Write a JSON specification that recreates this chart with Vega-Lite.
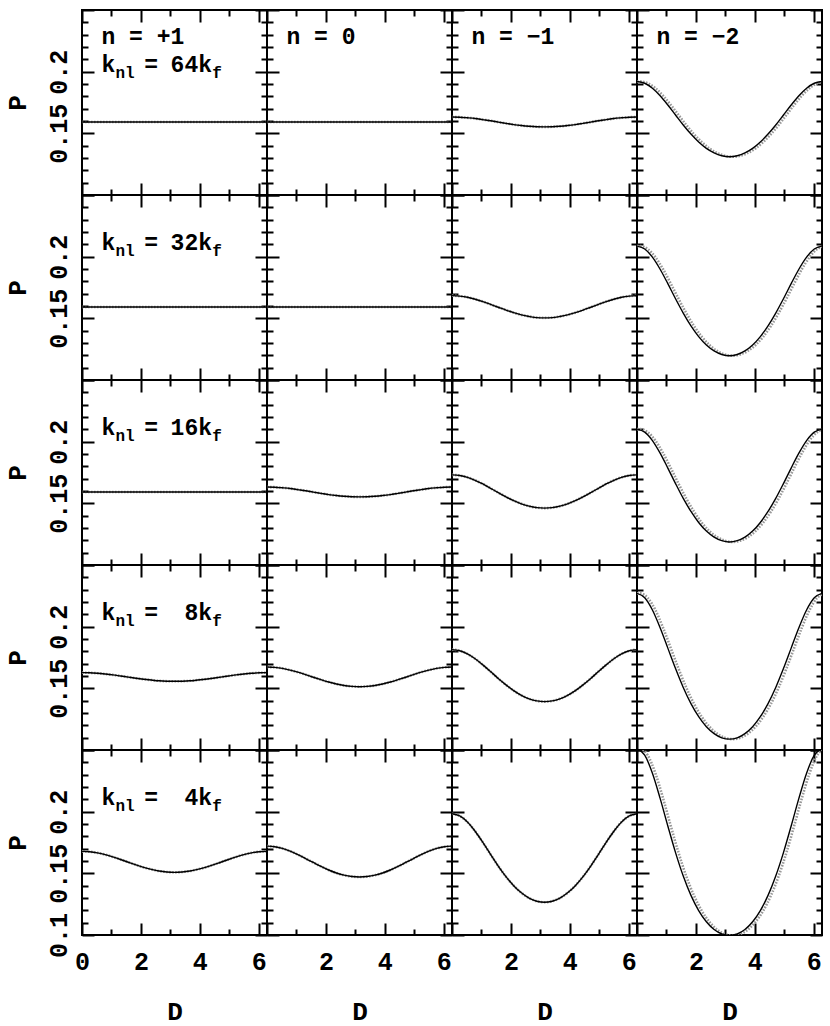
{
"$schema":"https://vega.github.io/schema/vega-lite/v6.json",
"padding":{"left":3,"top":8,"right":6,"bottom":4},
"columns":4,"spacing":0,"bounds":"flush",
"config":{
 "view":{"stroke":"black","strokeWidth":2},
 "axis":{"ticks":false,"domain":false,"grid":true,"gridColor":"black","gridWidth":2,"gridOpacity":1,"labelFont":"Liberation Mono","labelFontWeight":"bold","labelFontSize":25,"labelColor":"black","labelFlush":false,"labelOverlap":false,"labelBound":false,"titleFont":"Liberation Mono","titleFontWeight":"bold","titleFontSize":26,"titleColor":"black"},
 "axisX":{"labelPadding":14,"titlePadding":24},
 "axisY":{"labelPadding":16,"labelAngle":-90,"labelAlign":"center","labelBaseline":"alphabetic","titlePadding":16},
 "text":{"font":"Liberation Mono","fontWeight":"bold","fontSize":23,"align":"left","baseline":"alphabetic","color":"black"}
},
"datasets":{
"ann":[
{"key":"11h","t":"n = +1"},{"key":"12h","t":"n = 0"},{"key":"13h","t":"n = −1"},{"key":"14h","t":"n = −2"},
{"key":"11k","t":"k"},{"key":"11n","t":"nl"},{"key":"11e","t":"="},{"key":"11v","t":"64k"},{"key":"11f","t":"f"},
{"key":"21k","t":"k"},{"key":"21n","t":"nl"},{"key":"21e","t":"="},{"key":"21v","t":"32k"},{"key":"21f","t":"f"},
{"key":"31k","t":"k"},{"key":"31n","t":"nl"},{"key":"31e","t":"="},{"key":"31v","t":"16k"},{"key":"31f","t":"f"},
{"key":"41k","t":"k"},{"key":"41n","t":"nl"},{"key":"41e","t":"="},{"key":"41v","t":"8k"},{"key":"41f","t":"f"},
{"key":"51k","t":"k"},{"key":"51n","t":"nl"},{"key":"51e","t":"="},{"key":"51v","t":"4k"},{"key":"51f","t":"f"}
],
"model":[
{"p":"11","D":0,"P":0.1592},{"p":"11","D":6.2832,"P":0.1592},
{"p":"12","D":0,"P":0.1592},{"p":"12","D":6.2832,"P":0.1592},
{"p":"21","D":0,"P":0.1592},{"p":"21","D":6.2832,"P":0.1592},
{"p":"22","D":0,"P":0.1592},{"p":"22","D":6.2832,"P":0.1592},
{"p":"31","D":0,"P":0.1592},{"p":"31","D":6.2832,"P":0.1592},
{"p":"13","D":0,"P":0.1632},{"p":"13","D":0.2618,"P":0.1631},{"p":"13","D":0.5236,"P":0.1626},{"p":"13","D":0.7854,"P":0.162},{"p":"13","D":1.0472,"P":0.1611},{"p":"13","D":1.309,"P":0.1602},{"p":"13","D":1.5708,"P":0.1591},{"p":"13","D":1.8326,"P":0.1581},{"p":"13","D":2.0944,"P":0.1571},{"p":"13","D":2.3562,"P":0.1563},{"p":"13","D":2.618,"P":0.1557},{"p":"13","D":2.8798,"P":0.1553},{"p":"13","D":3.1416,"P":0.1552},{"p":"13","D":3.4034,"P":0.1553},{"p":"13","D":3.6652,"P":0.1557},{"p":"13","D":3.927,"P":0.1563},{"p":"13","D":4.1888,"P":0.1571},{"p":"13","D":4.4506,"P":0.1581},{"p":"13","D":4.7124,"P":0.1591},{"p":"13","D":4.9742,"P":0.1602},{"p":"13","D":5.236,"P":0.1611},{"p":"13","D":5.4978,"P":0.162},{"p":"13","D":5.7596,"P":0.1626},{"p":"13","D":6.0214,"P":0.1631},{"p":"13","D":6.2832,"P":0.1632},
{"p":"32","D":0,"P":0.1632},{"p":"32","D":0.2618,"P":0.1631},{"p":"32","D":0.5236,"P":0.1626},{"p":"32","D":0.7854,"P":0.162},{"p":"32","D":1.0472,"P":0.1611},{"p":"32","D":1.309,"P":0.1602},{"p":"32","D":1.5708,"P":0.1591},{"p":"32","D":1.8326,"P":0.1581},{"p":"32","D":2.0944,"P":0.1571},{"p":"32","D":2.3562,"P":0.1563},{"p":"32","D":2.618,"P":0.1557},{"p":"32","D":2.8798,"P":0.1553},{"p":"32","D":3.1416,"P":0.1552},{"p":"32","D":3.4034,"P":0.1553},{"p":"32","D":3.6652,"P":0.1557},{"p":"32","D":3.927,"P":0.1563},{"p":"32","D":4.1888,"P":0.1571},{"p":"32","D":4.4506,"P":0.1581},{"p":"32","D":4.7124,"P":0.1591},{"p":"32","D":4.9742,"P":0.1602},{"p":"32","D":5.236,"P":0.1611},{"p":"32","D":5.4978,"P":0.162},{"p":"32","D":5.7596,"P":0.1626},{"p":"32","D":6.0214,"P":0.1631},{"p":"32","D":6.2832,"P":0.1632},
{"p":"14","D":0,"P":0.192},{"p":"14","D":0.2618,"P":0.1906},{"p":"14","D":0.5236,"P":0.1866},{"p":"14","D":0.7854,"P":0.1805},{"p":"14","D":1.0472,"P":0.173},{"p":"14","D":1.309,"P":0.1649},{"p":"14","D":1.5708,"P":0.1568},{"p":"14","D":1.8326,"P":0.1494},{"p":"14","D":2.0944,"P":0.143},{"p":"14","D":2.3562,"P":0.1378},{"p":"14","D":2.618,"P":0.1341},{"p":"14","D":2.8798,"P":0.1318},{"p":"14","D":3.1416,"P":0.131},{"p":"14","D":3.4034,"P":0.1318},{"p":"14","D":3.6652,"P":0.1341},{"p":"14","D":3.927,"P":0.1378},{"p":"14","D":4.1888,"P":0.143},{"p":"14","D":4.4506,"P":0.1494},{"p":"14","D":4.7124,"P":0.1568},{"p":"14","D":4.9742,"P":0.1649},{"p":"14","D":5.236,"P":0.173},{"p":"14","D":5.4978,"P":0.1805},{"p":"14","D":5.7596,"P":0.1866},{"p":"14","D":6.0214,"P":0.1906},{"p":"14","D":6.2832,"P":0.192},
{"p":"23","D":0,"P":0.1684},{"p":"23","D":0.2618,"P":0.168},{"p":"23","D":0.5236,"P":0.1671},{"p":"23","D":0.7854,"P":0.1655},{"p":"23","D":1.0472,"P":0.1636},{"p":"23","D":1.309,"P":0.1613},{"p":"23","D":1.5708,"P":0.159},{"p":"23","D":1.8326,"P":0.1567},{"p":"23","D":2.0944,"P":0.1546},{"p":"23","D":2.3562,"P":0.1528},{"p":"23","D":2.618,"P":0.1515},{"p":"23","D":2.8798,"P":0.1506},{"p":"23","D":3.1416,"P":0.1504},{"p":"23","D":3.4034,"P":0.1506},{"p":"23","D":3.6652,"P":0.1515},{"p":"23","D":3.927,"P":0.1528},{"p":"23","D":4.1888,"P":0.1546},{"p":"23","D":4.4506,"P":0.1567},{"p":"23","D":4.7124,"P":0.159},{"p":"23","D":4.9742,"P":0.1613},{"p":"23","D":5.236,"P":0.1636},{"p":"23","D":5.4978,"P":0.1655},{"p":"23","D":5.7596,"P":0.1671},{"p":"23","D":6.0214,"P":0.168},{"p":"23","D":6.2832,"P":0.1684},
{"p":"24","D":0,"P":0.2086},{"p":"24","D":0.2618,"P":0.2062},{"p":"24","D":0.5236,"P":0.1996},{"p":"24","D":0.7854,"P":0.1898},{"p":"24","D":1.0472,"P":0.1781},{"p":"24","D":1.309,"P":0.1659},{"p":"24","D":1.5708,"P":0.1543},{"p":"24","D":1.8326,"P":0.1439},{"p":"24","D":2.0944,"P":0.1352},{"p":"24","D":2.3562,"P":0.1284},{"p":"24","D":2.618,"P":0.1236},{"p":"24","D":2.8798,"P":0.1207},{"p":"24","D":3.1416,"P":0.1197},{"p":"24","D":3.4034,"P":0.1207},{"p":"24","D":3.6652,"P":0.1236},{"p":"24","D":3.927,"P":0.1284},{"p":"24","D":4.1888,"P":0.1352},{"p":"24","D":4.4506,"P":0.1439},{"p":"24","D":4.7124,"P":0.1543},{"p":"24","D":4.9742,"P":0.1659},{"p":"24","D":5.236,"P":0.1781},{"p":"24","D":5.4978,"P":0.1898},{"p":"24","D":5.7596,"P":0.1996},{"p":"24","D":6.0214,"P":0.2062},{"p":"24","D":6.2832,"P":0.2086},
{"p":"33","D":0,"P":0.1731},{"p":"33","D":0.2618,"P":0.1726},{"p":"33","D":0.5236,"P":0.1711},{"p":"33","D":0.7854,"P":0.1687},{"p":"33","D":1.0472,"P":0.1657},{"p":"33","D":1.309,"P":0.1622},{"p":"33","D":1.5708,"P":0.1587},{"p":"33","D":1.8326,"P":0.1553},{"p":"33","D":2.0944,"P":0.1522},{"p":"33","D":2.3562,"P":0.1496},{"p":"33","D":2.618,"P":0.1477},{"p":"33","D":2.8798,"P":0.1465},{"p":"33","D":3.1416,"P":0.1461},{"p":"33","D":3.4034,"P":0.1465},{"p":"33","D":3.6652,"P":0.1477},{"p":"33","D":3.927,"P":0.1496},{"p":"33","D":4.1888,"P":0.1522},{"p":"33","D":4.4506,"P":0.1553},{"p":"33","D":4.7124,"P":0.1587},{"p":"33","D":4.9742,"P":0.1622},{"p":"33","D":5.236,"P":0.1657},{"p":"33","D":5.4978,"P":0.1687},{"p":"33","D":5.7596,"P":0.1711},{"p":"33","D":6.0214,"P":0.1726},{"p":"33","D":6.2832,"P":0.1731},
{"p":"34","D":0,"P":0.2102},{"p":"34","D":0.2618,"P":0.2077},{"p":"34","D":0.5236,"P":0.2009},{"p":"34","D":0.7854,"P":0.1907},{"p":"34","D":1.0472,"P":0.1786},{"p":"34","D":1.309,"P":0.166},{"p":"34","D":1.5708,"P":0.154},{"p":"34","D":1.8326,"P":0.1434},{"p":"34","D":2.0944,"P":0.1345},{"p":"34","D":2.3562,"P":0.1275},{"p":"34","D":2.618,"P":0.1226},{"p":"34","D":2.8798,"P":0.1197},{"p":"34","D":3.1416,"P":0.1187},{"p":"34","D":3.4034,"P":0.1197},{"p":"34","D":3.6652,"P":0.1226},{"p":"34","D":3.927,"P":0.1275},{"p":"34","D":4.1888,"P":0.1345},{"p":"34","D":4.4506,"P":0.1434},{"p":"34","D":4.7124,"P":0.154},{"p":"34","D":4.9742,"P":0.166},{"p":"34","D":5.236,"P":0.1786},{"p":"34","D":5.4978,"P":0.1907},{"p":"34","D":5.7596,"P":0.2009},{"p":"34","D":6.0214,"P":0.2077},{"p":"34","D":6.2832,"P":0.2102},
{"p":"41","D":0,"P":0.1627},{"p":"41","D":0.2618,"P":0.1626},{"p":"41","D":0.5236,"P":0.1622},{"p":"41","D":0.7854,"P":0.1616},{"p":"41","D":1.0472,"P":0.1609},{"p":"41","D":1.309,"P":0.16},{"p":"41","D":1.5708,"P":0.1591},{"p":"41","D":1.8326,"P":0.1582},{"p":"41","D":2.0944,"P":0.1574},{"p":"41","D":2.3562,"P":0.1567},{"p":"41","D":2.618,"P":0.1561},{"p":"41","D":2.8798,"P":0.1558},{"p":"41","D":3.1416,"P":0.1557},{"p":"41","D":3.4034,"P":0.1558},{"p":"41","D":3.6652,"P":0.1561},{"p":"41","D":3.927,"P":0.1567},{"p":"41","D":4.1888,"P":0.1574},{"p":"41","D":4.4506,"P":0.1582},{"p":"41","D":4.7124,"P":0.1591},{"p":"41","D":4.9742,"P":0.16},{"p":"41","D":5.236,"P":0.1609},{"p":"41","D":5.4978,"P":0.1616},{"p":"41","D":5.7596,"P":0.1622},{"p":"41","D":6.0214,"P":0.1626},{"p":"41","D":6.2832,"P":0.1627},
{"p":"42","D":0,"P":0.1673},{"p":"42","D":0.2618,"P":0.167},{"p":"42","D":0.5236,"P":0.1662},{"p":"42","D":0.7854,"P":0.1648},{"p":"42","D":1.0472,"P":0.1631},{"p":"42","D":1.309,"P":0.1611},{"p":"42","D":1.5708,"P":0.159},{"p":"42","D":1.8326,"P":0.157},{"p":"42","D":2.0944,"P":0.1551},{"p":"42","D":2.3562,"P":0.1535},{"p":"42","D":2.618,"P":0.1523},{"p":"42","D":2.8798,"P":0.1516},{"p":"42","D":3.1416,"P":0.1513},{"p":"42","D":3.4034,"P":0.1516},{"p":"42","D":3.6652,"P":0.1523},{"p":"42","D":3.927,"P":0.1535},{"p":"42","D":4.1888,"P":0.1551},{"p":"42","D":4.4506,"P":0.157},{"p":"42","D":4.7124,"P":0.159},{"p":"42","D":4.9742,"P":0.1611},{"p":"42","D":5.236,"P":0.1631},{"p":"42","D":5.4978,"P":0.1648},{"p":"42","D":5.7596,"P":0.1662},{"p":"42","D":6.0214,"P":0.167},{"p":"42","D":6.2832,"P":0.1673},
{"p":"43","D":0,"P":0.1814},{"p":"43","D":0.2618,"P":0.1805},{"p":"43","D":0.5236,"P":0.1779},{"p":"43","D":0.7854,"P":0.174},{"p":"43","D":1.0472,"P":0.169},{"p":"43","D":1.309,"P":0.1636},{"p":"43","D":1.5708,"P":0.158},{"p":"43","D":1.8326,"P":0.1528},{"p":"43","D":2.0944,"P":0.1481},{"p":"43","D":2.3562,"P":0.1443},{"p":"43","D":2.618,"P":0.1415},{"p":"43","D":2.8798,"P":0.1398},{"p":"43","D":3.1416,"P":0.1392},{"p":"43","D":3.4034,"P":0.1398},{"p":"43","D":3.6652,"P":0.1415},{"p":"43","D":3.927,"P":0.1443},{"p":"43","D":4.1888,"P":0.1481},{"p":"43","D":4.4506,"P":0.1528},{"p":"43","D":4.7124,"P":0.158},{"p":"43","D":4.9742,"P":0.1636},{"p":"43","D":5.236,"P":0.169},{"p":"43","D":5.4978,"P":0.174},{"p":"43","D":5.7596,"P":0.1779},{"p":"43","D":6.0214,"P":0.1805},{"p":"43","D":6.2832,"P":0.1814},
{"p":"44","D":0,"P":0.227},{"p":"44","D":0.2618,"P":0.2234},{"p":"44","D":0.5236,"P":0.2135},{"p":"44","D":0.7854,"P":0.1991},{"p":"44","D":1.0472,"P":0.1826},{"p":"44","D":1.309,"P":0.166},{"p":"44","D":1.5708,"P":0.1507},{"p":"44","D":1.8326,"P":0.1376},{"p":"44","D":2.0944,"P":0.127},{"p":"44","D":2.3562,"P":0.1189},{"p":"44","D":2.618,"P":0.1133},{"p":"44","D":2.8798,"P":0.1099},{"p":"44","D":3.1416,"P":0.1088},{"p":"44","D":3.4034,"P":0.1099},{"p":"44","D":3.6652,"P":0.1133},{"p":"44","D":3.927,"P":0.1189},{"p":"44","D":4.1888,"P":0.127},{"p":"44","D":4.4506,"P":0.1376},{"p":"44","D":4.7124,"P":0.1507},{"p":"44","D":4.9742,"P":0.166},{"p":"44","D":5.236,"P":0.1826},{"p":"44","D":5.4978,"P":0.1991},{"p":"44","D":5.7596,"P":0.2135},{"p":"44","D":6.0214,"P":0.2234},{"p":"44","D":6.2832,"P":0.227},
{"p":"51","D":0,"P":0.1678},{"p":"51","D":0.2618,"P":0.1675},{"p":"51","D":0.5236,"P":0.1666},{"p":"51","D":0.7854,"P":0.1652},{"p":"51","D":1.0472,"P":0.1633},{"p":"51","D":1.309,"P":0.1612},{"p":"51","D":1.5708,"P":0.159},{"p":"51","D":1.8326,"P":0.1568},{"p":"51","D":2.0944,"P":0.1548},{"p":"51","D":2.3562,"P":0.1532},{"p":"51","D":2.618,"P":0.1519},{"p":"51","D":2.8798,"P":0.1511},{"p":"51","D":3.1416,"P":0.1508},{"p":"51","D":3.4034,"P":0.1511},{"p":"51","D":3.6652,"P":0.1519},{"p":"51","D":3.927,"P":0.1532},{"p":"51","D":4.1888,"P":0.1548},{"p":"51","D":4.4506,"P":0.1568},{"p":"51","D":4.7124,"P":0.159},{"p":"51","D":4.9742,"P":0.1612},{"p":"51","D":5.236,"P":0.1633},{"p":"51","D":5.4978,"P":0.1652},{"p":"51","D":5.7596,"P":0.1666},{"p":"51","D":6.0214,"P":0.1675},{"p":"51","D":6.2832,"P":0.1678},
{"p":"52","D":0,"P":0.1721},{"p":"52","D":0.2618,"P":0.1716},{"p":"52","D":0.5236,"P":0.1702},{"p":"52","D":0.7854,"P":0.168},{"p":"52","D":1.0472,"P":0.1652},{"p":"52","D":1.309,"P":0.162},{"p":"52","D":1.5708,"P":0.1588},{"p":"52","D":1.8326,"P":0.1556},{"p":"52","D":2.0944,"P":0.1527},{"p":"52","D":2.3562,"P":0.1503},{"p":"52","D":2.618,"P":0.1485},{"p":"52","D":2.8798,"P":0.1474},{"p":"52","D":3.1416,"P":0.147},{"p":"52","D":3.4034,"P":0.1474},{"p":"52","D":3.6652,"P":0.1485},{"p":"52","D":3.927,"P":0.1503},{"p":"52","D":4.1888,"P":0.1527},{"p":"52","D":4.4506,"P":0.1556},{"p":"52","D":4.7124,"P":0.1588},{"p":"52","D":4.9742,"P":0.162},{"p":"52","D":5.236,"P":0.1652},{"p":"52","D":5.4978,"P":0.168},{"p":"52","D":5.7596,"P":0.1702},{"p":"52","D":6.0214,"P":0.1716},{"p":"52","D":6.2832,"P":0.1721},
{"p":"53","D":0,"P":0.1983},{"p":"53","D":0.2618,"P":0.1965},{"p":"53","D":0.5236,"P":0.1916},{"p":"53","D":0.7854,"P":0.1841},{"p":"53","D":1.0472,"P":0.1751},{"p":"53","D":1.309,"P":0.1654},{"p":"53","D":1.5708,"P":0.1559},{"p":"53","D":1.8326,"P":0.1473},{"p":"53","D":2.0944,"P":0.14},{"p":"53","D":2.3562,"P":0.1342},{"p":"53","D":2.618,"P":0.1299},{"p":"53","D":2.8798,"P":0.1274},{"p":"53","D":3.1416,"P":0.1265},{"p":"53","D":3.4034,"P":0.1274},{"p":"53","D":3.6652,"P":0.1299},{"p":"53","D":3.927,"P":0.1342},{"p":"53","D":4.1888,"P":0.14},{"p":"53","D":4.4506,"P":0.1473},{"p":"53","D":4.7124,"P":0.1559},{"p":"53","D":4.9742,"P":0.1654},{"p":"53","D":5.236,"P":0.1751},{"p":"53","D":5.4978,"P":0.1841},{"p":"53","D":5.7596,"P":0.1916},{"p":"53","D":6.0214,"P":0.1965},{"p":"53","D":6.2832,"P":0.1983},
{"p":"54","D":0,"P":0.2511},{"p":"54","D":0.2618,"P":0.2458},{"p":"54","D":0.5236,"P":0.2312},{"p":"54","D":0.7854,"P":0.2108},{"p":"54","D":1.0472,"P":0.1884},{"p":"54","D":1.309,"P":0.1668},{"p":"54","D":1.5708,"P":0.1478},{"p":"54","D":1.8326,"P":0.1321},{"p":"54","D":2.0944,"P":0.1198},{"p":"54","D":2.3562,"P":0.1107},{"p":"54","D":2.618,"P":0.1044},{"p":"54","D":2.8798,"P":0.1008},{"p":"54","D":3.1416,"P":0.0996},{"p":"54","D":3.4034,"P":0.1008},{"p":"54","D":3.6652,"P":0.1044},{"p":"54","D":3.927,"P":0.1107},{"p":"54","D":4.1888,"P":0.1198},{"p":"54","D":4.4506,"P":0.1321},{"p":"54","D":4.7124,"P":0.1478},{"p":"54","D":4.9742,"P":0.1668},{"p":"54","D":5.236,"P":0.1884},{"p":"54","D":5.4978,"P":0.2108},{"p":"54","D":5.7596,"P":0.2312},{"p":"54","D":6.0214,"P":0.2458},{"p":"54","D":6.2832,"P":0.2511}
],
"meas":[
{"p":"14","D":0,"P":0.192},{"p":"14","D":0.1,"P":0.192},{"p":"14","D":0.3618,"P":0.1906},{"p":"14","D":0.6236,"P":0.1866},{"p":"14","D":0.8854,"P":0.1805},{"p":"14","D":1.1472,"P":0.173},{"p":"14","D":1.409,"P":0.1649},{"p":"14","D":1.6708,"P":0.1568},{"p":"14","D":1.9326,"P":0.1494},{"p":"14","D":2.1944,"P":0.143},{"p":"14","D":2.4562,"P":0.1378},{"p":"14","D":2.718,"P":0.1341},{"p":"14","D":2.9798,"P":0.1318},{"p":"14","D":3.2416,"P":0.131},{"p":"14","D":3.5034,"P":0.1318},{"p":"14","D":3.7652,"P":0.1341},{"p":"14","D":4.027,"P":0.1378},{"p":"14","D":4.2888,"P":0.143},{"p":"14","D":4.5506,"P":0.1494},{"p":"14","D":4.8124,"P":0.1568},{"p":"14","D":5.0742,"P":0.1649},{"p":"14","D":5.336,"P":0.173},{"p":"14","D":5.5978,"P":0.1805},{"p":"14","D":5.8596,"P":0.1866},{"p":"14","D":6.1214,"P":0.1906},{"p":"14","D":6.3832,"P":0.192},
{"p":"24","D":0,"P":0.2086},{"p":"24","D":0.1,"P":0.2086},{"p":"24","D":0.3618,"P":0.2062},{"p":"24","D":0.6236,"P":0.1996},{"p":"24","D":0.8854,"P":0.1898},{"p":"24","D":1.1472,"P":0.1781},{"p":"24","D":1.409,"P":0.1659},{"p":"24","D":1.6708,"P":0.1543},{"p":"24","D":1.9326,"P":0.1439},{"p":"24","D":2.1944,"P":0.1352},{"p":"24","D":2.4562,"P":0.1284},{"p":"24","D":2.718,"P":0.1236},{"p":"24","D":2.9798,"P":0.1207},{"p":"24","D":3.2416,"P":0.1197},{"p":"24","D":3.5034,"P":0.1207},{"p":"24","D":3.7652,"P":0.1236},{"p":"24","D":4.027,"P":0.1284},{"p":"24","D":4.2888,"P":0.1352},{"p":"24","D":4.5506,"P":0.1439},{"p":"24","D":4.8124,"P":0.1543},{"p":"24","D":5.0742,"P":0.1659},{"p":"24","D":5.336,"P":0.1781},{"p":"24","D":5.5978,"P":0.1898},{"p":"24","D":5.8596,"P":0.1996},{"p":"24","D":6.1214,"P":0.2062},{"p":"24","D":6.3832,"P":0.2086},
{"p":"34","D":0,"P":0.2102},{"p":"34","D":0.1,"P":0.2102},{"p":"34","D":0.3618,"P":0.2077},{"p":"34","D":0.6236,"P":0.2009},{"p":"34","D":0.8854,"P":0.1907},{"p":"34","D":1.1472,"P":0.1786},{"p":"34","D":1.409,"P":0.166},{"p":"34","D":1.6708,"P":0.154},{"p":"34","D":1.9326,"P":0.1434},{"p":"34","D":2.1944,"P":0.1345},{"p":"34","D":2.4562,"P":0.1275},{"p":"34","D":2.718,"P":0.1226},{"p":"34","D":2.9798,"P":0.1197},{"p":"34","D":3.2416,"P":0.1187},{"p":"34","D":3.5034,"P":0.1197},{"p":"34","D":3.7652,"P":0.1226},{"p":"34","D":4.027,"P":0.1275},{"p":"34","D":4.2888,"P":0.1345},{"p":"34","D":4.5506,"P":0.1434},{"p":"34","D":4.8124,"P":0.154},{"p":"34","D":5.0742,"P":0.166},{"p":"34","D":5.336,"P":0.1786},{"p":"34","D":5.5978,"P":0.1907},{"p":"34","D":5.8596,"P":0.2009},{"p":"34","D":6.1214,"P":0.2077},{"p":"34","D":6.3832,"P":0.2102},
{"p":"44","D":0,"P":0.227},{"p":"44","D":0.1,"P":0.227},{"p":"44","D":0.3618,"P":0.2234},{"p":"44","D":0.6236,"P":0.2135},{"p":"44","D":0.8854,"P":0.1991},{"p":"44","D":1.1472,"P":0.1826},{"p":"44","D":1.409,"P":0.166},{"p":"44","D":1.6708,"P":0.1507},{"p":"44","D":1.9326,"P":0.1376},{"p":"44","D":2.1944,"P":0.127},{"p":"44","D":2.4562,"P":0.1189},{"p":"44","D":2.718,"P":0.1133},{"p":"44","D":2.9798,"P":0.1099},{"p":"44","D":3.2416,"P":0.1088},{"p":"44","D":3.5034,"P":0.1099},{"p":"44","D":3.7652,"P":0.1133},{"p":"44","D":4.027,"P":0.1189},{"p":"44","D":4.2888,"P":0.127},{"p":"44","D":4.5506,"P":0.1376},{"p":"44","D":4.8124,"P":0.1507},{"p":"44","D":5.0742,"P":0.166},{"p":"44","D":5.336,"P":0.1826},{"p":"44","D":5.5978,"P":0.1991},{"p":"44","D":5.8596,"P":0.2135},{"p":"44","D":6.1214,"P":0.2234},{"p":"44","D":6.3832,"P":0.227},
{"p":"54","D":0,"P":0.2511},{"p":"54","D":0.1,"P":0.2511},{"p":"54","D":0.3618,"P":0.2458},{"p":"54","D":0.6236,"P":0.2312},{"p":"54","D":0.8854,"P":0.2108},{"p":"54","D":1.1472,"P":0.1884},{"p":"54","D":1.409,"P":0.1668},{"p":"54","D":1.6708,"P":0.1478},{"p":"54","D":1.9326,"P":0.1321},{"p":"54","D":2.1944,"P":0.1198},{"p":"54","D":2.4562,"P":0.1107},{"p":"54","D":2.718,"P":0.1044},{"p":"54","D":2.9798,"P":0.1008},{"p":"54","D":3.2416,"P":0.0996},{"p":"54","D":3.5034,"P":0.1008},{"p":"54","D":3.7652,"P":0.1044},{"p":"54","D":4.027,"P":0.1107},{"p":"54","D":4.2888,"P":0.1198},{"p":"54","D":4.5506,"P":0.1321},{"p":"54","D":4.8124,"P":0.1478},{"p":"54","D":5.0742,"P":0.1668},{"p":"54","D":5.336,"P":0.1884},{"p":"54","D":5.5978,"P":0.2108},{"p":"54","D":5.8596,"P":0.2312},{"p":"54","D":6.1214,"P":0.2458},{"p":"54","D":6.3832,"P":0.2511}
]
},
"concat":[
{"width":185,"height":185,"layer":[
 {"data":{"name":"model"},"transform":[{"filter":"datum.p=='11'"}],"mark":{"type":"line","color":"#999999","strokeWidth":2.6,"strokeDash":[1.6,1.4],"interpolate":"monotone","clip":true},"encoding":{"x":{"field":"D","type":"quantitative","scale":{"domain":[0,6.2832],"nice":false,"zero":false},"axis":{"values":[0,1,2,3,4,5,6],"labelOverlap":false,"gridDash":{"condition":{"test":"datum.value % 2 === 0","value":[12,161]},"value":[6,173]},"labels":false,"title":null}},"y":{"field":"P","type":"quantitative","scale":{"domain":[0.1,0.25],"nice":false,"zero":false},"axis":{"values":[0.1,0.11,0.12,0.13,0.14,0.15,0.16,0.17,0.18,0.19,0.2,0.21,0.22,0.23,0.24,0.25],"labelOverlap":false,"gridDash":{"condition":{"test":"round(datum.value*100) % 5 === 0","value":[12,161]},"value":[6,173]},"labelExpr":"round(datum.value*100) == 15 ? '0.15' : (round(datum.value*100) == 20 ? '\u00a0\u00a00.2' : '')","title":"P"}}}},
 {"data":{"name":"model"},"transform":[{"filter":"datum.p=='11'"}],"mark":{"type":"line","color":"black","strokeWidth":1.4,"interpolate":"monotone","clip":true},"encoding":{"x":{"field":"D","type":"quantitative","scale":{"domain":[0,6.2832],"nice":false,"zero":false},"axis":{"values":[0,1,2,3,4,5,6],"labelOverlap":false,"gridDash":{"condition":{"test":"datum.value % 2 === 0","value":[12,161]},"value":[6,173]},"labels":false,"title":null}},"y":{"field":"P","type":"quantitative","scale":{"domain":[0.1,0.25],"nice":false,"zero":false},"axis":{"values":[0.1,0.11,0.12,0.13,0.14,0.15,0.16,0.17,0.18,0.19,0.2,0.21,0.22,0.23,0.24,0.25],"labelOverlap":false,"gridDash":{"condition":{"test":"round(datum.value*100) % 5 === 0","value":[12,161]},"value":[6,173]},"labelExpr":"round(datum.value*100) == 15 ? '0.15' : (round(datum.value*100) == 20 ? '\u00a0\u00a00.2' : '')","title":"P"}}}},
 {"data":{"name":"ann"},"transform":[{"filter":"datum.key=='11h'"}],"mark":{"type":"text"},"encoding":{"text":{"field":"t"},"x":{"datum":0.66,"type":"quantitative","scale":{"domain":[0,6.2832],"nice":false,"zero":false},"axis":{"values":[0,1,2,3,4,5,6],"labelOverlap":false,"gridDash":{"condition":{"test":"datum.value % 2 === 0","value":[12,161]},"value":[6,173]},"labels":false,"title":null}},"y":{"datum":0.2224,"type":"quantitative","scale":{"domain":[0.1,0.25],"nice":false,"zero":false},"axis":{"values":[0.1,0.11,0.12,0.13,0.14,0.15,0.16,0.17,0.18,0.19,0.2,0.21,0.22,0.23,0.24,0.25],"labelOverlap":false,"gridDash":{"condition":{"test":"round(datum.value*100) % 5 === 0","value":[12,161]},"value":[6,173]},"labelExpr":"round(datum.value*100) == 15 ? '0.15' : (round(datum.value*100) == 20 ? '\u00a0\u00a00.2' : '')","title":"P"}}}},
 {"data":{"name":"ann"},"transform":[{"filter":"datum.key=='11k'"}],"mark":{"type":"text"},"encoding":{"text":{"field":"t"},"x":{"datum":0.66,"type":"quantitative","scale":{"domain":[0,6.2832],"nice":false,"zero":false},"axis":{"values":[0,1,2,3,4,5,6],"labelOverlap":false,"gridDash":{"condition":{"test":"datum.value % 2 === 0","value":[12,161]},"value":[6,173]},"labels":false,"title":null}},"y":{"datum":0.1997,"type":"quantitative","scale":{"domain":[0.1,0.25],"nice":false,"zero":false},"axis":{"values":[0.1,0.11,0.12,0.13,0.14,0.15,0.16,0.17,0.18,0.19,0.2,0.21,0.22,0.23,0.24,0.25],"labelOverlap":false,"gridDash":{"condition":{"test":"round(datum.value*100) % 5 === 0","value":[12,161]},"value":[6,173]},"labelExpr":"round(datum.value*100) == 15 ? '0.15' : (round(datum.value*100) == 20 ? '\u00a0\u00a00.2' : '')","title":"P"}}}},
 {"data":{"name":"ann"},"transform":[{"filter":"datum.key=='11n'"}],"mark":{"type":"text","fontSize":16},"encoding":{"text":{"field":"t"},"x":{"datum":1.135,"type":"quantitative","scale":{"domain":[0,6.2832],"nice":false,"zero":false},"axis":{"values":[0,1,2,3,4,5,6],"labelOverlap":false,"gridDash":{"condition":{"test":"datum.value % 2 === 0","value":[12,161]},"value":[6,173]},"labels":false,"title":null}},"y":{"datum":0.1946,"type":"quantitative","scale":{"domain":[0.1,0.25],"nice":false,"zero":false},"axis":{"values":[0.1,0.11,0.12,0.13,0.14,0.15,0.16,0.17,0.18,0.19,0.2,0.21,0.22,0.23,0.24,0.25],"labelOverlap":false,"gridDash":{"condition":{"test":"round(datum.value*100) % 5 === 0","value":[12,161]},"value":[6,173]},"labelExpr":"round(datum.value*100) == 15 ? '0.15' : (round(datum.value*100) == 20 ? '\u00a0\u00a00.2' : '')","title":"P"}}}},
 {"data":{"name":"ann"},"transform":[{"filter":"datum.key=='11e'"}],"mark":{"type":"text","align":"center"},"encoding":{"text":{"field":"t"},"x":{"datum":2.35,"type":"quantitative","scale":{"domain":[0,6.2832],"nice":false,"zero":false},"axis":{"values":[0,1,2,3,4,5,6],"labelOverlap":false,"gridDash":{"condition":{"test":"datum.value % 2 === 0","value":[12,161]},"value":[6,173]},"labels":false,"title":null}},"y":{"datum":0.1997,"type":"quantitative","scale":{"domain":[0.1,0.25],"nice":false,"zero":false},"axis":{"values":[0.1,0.11,0.12,0.13,0.14,0.15,0.16,0.17,0.18,0.19,0.2,0.21,0.22,0.23,0.24,0.25],"labelOverlap":false,"gridDash":{"condition":{"test":"round(datum.value*100) % 5 === 0","value":[12,161]},"value":[6,173]},"labelExpr":"round(datum.value*100) == 15 ? '0.15' : (round(datum.value*100) == 20 ? '\u00a0\u00a00.2' : '')","title":"P"}}}},
 {"data":{"name":"ann"},"transform":[{"filter":"datum.key=='11v'"}],"mark":{"type":"text","align":"right"},"encoding":{"text":{"field":"t"},"x":{"datum":4.416,"type":"quantitative","scale":{"domain":[0,6.2832],"nice":false,"zero":false},"axis":{"values":[0,1,2,3,4,5,6],"labelOverlap":false,"gridDash":{"condition":{"test":"datum.value % 2 === 0","value":[12,161]},"value":[6,173]},"labels":false,"title":null}},"y":{"datum":0.1997,"type":"quantitative","scale":{"domain":[0.1,0.25],"nice":false,"zero":false},"axis":{"values":[0.1,0.11,0.12,0.13,0.14,0.15,0.16,0.17,0.18,0.19,0.2,0.21,0.22,0.23,0.24,0.25],"labelOverlap":false,"gridDash":{"condition":{"test":"round(datum.value*100) % 5 === 0","value":[12,161]},"value":[6,173]},"labelExpr":"round(datum.value*100) == 15 ? '0.15' : (round(datum.value*100) == 20 ? '\u00a0\u00a00.2' : '')","title":"P"}}}},
 {"data":{"name":"ann"},"transform":[{"filter":"datum.key=='11f'"}],"mark":{"type":"text","fontSize":16},"encoding":{"text":{"field":"t"},"x":{"datum":4.42,"type":"quantitative","scale":{"domain":[0,6.2832],"nice":false,"zero":false},"axis":{"values":[0,1,2,3,4,5,6],"labelOverlap":false,"gridDash":{"condition":{"test":"datum.value % 2 === 0","value":[12,161]},"value":[6,173]},"labels":false,"title":null}},"y":{"datum":0.1946,"type":"quantitative","scale":{"domain":[0.1,0.25],"nice":false,"zero":false},"axis":{"values":[0.1,0.11,0.12,0.13,0.14,0.15,0.16,0.17,0.18,0.19,0.2,0.21,0.22,0.23,0.24,0.25],"labelOverlap":false,"gridDash":{"condition":{"test":"round(datum.value*100) % 5 === 0","value":[12,161]},"value":[6,173]},"labelExpr":"round(datum.value*100) == 15 ? '0.15' : (round(datum.value*100) == 20 ? '\u00a0\u00a00.2' : '')","title":"P"}}}}
 ]},
{"width":185,"height":185,"layer":[
 {"data":{"name":"model"},"transform":[{"filter":"datum.p=='12'"}],"mark":{"type":"line","color":"#999999","strokeWidth":2.6,"strokeDash":[1.6,1.4],"interpolate":"monotone","clip":true},"encoding":{"x":{"field":"D","type":"quantitative","scale":{"domain":[0,6.2832],"nice":false,"zero":false},"axis":{"values":[0,1,2,3,4,5,6],"labelOverlap":false,"gridDash":{"condition":{"test":"datum.value % 2 === 0","value":[12,161]},"value":[6,173]},"labels":false,"title":null}},"y":{"field":"P","type":"quantitative","scale":{"domain":[0.1,0.25],"nice":false,"zero":false},"axis":{"values":[0.1,0.11,0.12,0.13,0.14,0.15,0.16,0.17,0.18,0.19,0.2,0.21,0.22,0.23,0.24,0.25],"labelOverlap":false,"gridDash":{"condition":{"test":"round(datum.value*100) % 5 === 0","value":[12,161]},"value":[6,173]},"labels":false,"title":null}}}},
 {"data":{"name":"model"},"transform":[{"filter":"datum.p=='12'"}],"mark":{"type":"line","color":"black","strokeWidth":1.4,"interpolate":"monotone","clip":true},"encoding":{"x":{"field":"D","type":"quantitative","scale":{"domain":[0,6.2832],"nice":false,"zero":false},"axis":{"values":[0,1,2,3,4,5,6],"labelOverlap":false,"gridDash":{"condition":{"test":"datum.value % 2 === 0","value":[12,161]},"value":[6,173]},"labels":false,"title":null}},"y":{"field":"P","type":"quantitative","scale":{"domain":[0.1,0.25],"nice":false,"zero":false},"axis":{"values":[0.1,0.11,0.12,0.13,0.14,0.15,0.16,0.17,0.18,0.19,0.2,0.21,0.22,0.23,0.24,0.25],"labelOverlap":false,"gridDash":{"condition":{"test":"round(datum.value*100) % 5 === 0","value":[12,161]},"value":[6,173]},"labels":false,"title":null}}}},
 {"data":{"name":"ann"},"transform":[{"filter":"datum.key=='12h'"}],"mark":{"type":"text"},"encoding":{"text":{"field":"t"},"x":{"datum":0.66,"type":"quantitative","scale":{"domain":[0,6.2832],"nice":false,"zero":false},"axis":{"values":[0,1,2,3,4,5,6],"labelOverlap":false,"gridDash":{"condition":{"test":"datum.value % 2 === 0","value":[12,161]},"value":[6,173]},"labels":false,"title":null}},"y":{"datum":0.2224,"type":"quantitative","scale":{"domain":[0.1,0.25],"nice":false,"zero":false},"axis":{"values":[0.1,0.11,0.12,0.13,0.14,0.15,0.16,0.17,0.18,0.19,0.2,0.21,0.22,0.23,0.24,0.25],"labelOverlap":false,"gridDash":{"condition":{"test":"round(datum.value*100) % 5 === 0","value":[12,161]},"value":[6,173]},"labels":false,"title":null}}}}
 ]},
{"width":185,"height":185,"layer":[
 {"data":{"name":"model"},"transform":[{"filter":"datum.p=='13'"}],"mark":{"type":"line","color":"#999999","strokeWidth":2.6,"strokeDash":[1.6,1.4],"interpolate":"monotone","clip":true},"encoding":{"x":{"field":"D","type":"quantitative","scale":{"domain":[0,6.2832],"nice":false,"zero":false},"axis":{"values":[0,1,2,3,4,5,6],"labelOverlap":false,"gridDash":{"condition":{"test":"datum.value % 2 === 0","value":[12,161]},"value":[6,173]},"labels":false,"title":null}},"y":{"field":"P","type":"quantitative","scale":{"domain":[0.1,0.25],"nice":false,"zero":false},"axis":{"values":[0.1,0.11,0.12,0.13,0.14,0.15,0.16,0.17,0.18,0.19,0.2,0.21,0.22,0.23,0.24,0.25],"labelOverlap":false,"gridDash":{"condition":{"test":"round(datum.value*100) % 5 === 0","value":[12,161]},"value":[6,173]},"labels":false,"title":null}}}},
 {"data":{"name":"model"},"transform":[{"filter":"datum.p=='13'"}],"mark":{"type":"line","color":"black","strokeWidth":1.4,"interpolate":"monotone","clip":true},"encoding":{"x":{"field":"D","type":"quantitative","scale":{"domain":[0,6.2832],"nice":false,"zero":false},"axis":{"values":[0,1,2,3,4,5,6],"labelOverlap":false,"gridDash":{"condition":{"test":"datum.value % 2 === 0","value":[12,161]},"value":[6,173]},"labels":false,"title":null}},"y":{"field":"P","type":"quantitative","scale":{"domain":[0.1,0.25],"nice":false,"zero":false},"axis":{"values":[0.1,0.11,0.12,0.13,0.14,0.15,0.16,0.17,0.18,0.19,0.2,0.21,0.22,0.23,0.24,0.25],"labelOverlap":false,"gridDash":{"condition":{"test":"round(datum.value*100) % 5 === 0","value":[12,161]},"value":[6,173]},"labels":false,"title":null}}}},
 {"data":{"name":"ann"},"transform":[{"filter":"datum.key=='13h'"}],"mark":{"type":"text"},"encoding":{"text":{"field":"t"},"x":{"datum":0.66,"type":"quantitative","scale":{"domain":[0,6.2832],"nice":false,"zero":false},"axis":{"values":[0,1,2,3,4,5,6],"labelOverlap":false,"gridDash":{"condition":{"test":"datum.value % 2 === 0","value":[12,161]},"value":[6,173]},"labels":false,"title":null}},"y":{"datum":0.2224,"type":"quantitative","scale":{"domain":[0.1,0.25],"nice":false,"zero":false},"axis":{"values":[0.1,0.11,0.12,0.13,0.14,0.15,0.16,0.17,0.18,0.19,0.2,0.21,0.22,0.23,0.24,0.25],"labelOverlap":false,"gridDash":{"condition":{"test":"round(datum.value*100) % 5 === 0","value":[12,161]},"value":[6,173]},"labels":false,"title":null}}}}
 ]},
{"width":185,"height":185,"layer":[
 {"data":{"name":"meas"},"transform":[{"filter":"datum.p=='14'"}],"mark":{"type":"line","color":"#999999","strokeWidth":2.6,"strokeDash":[1.6,1.4],"interpolate":"monotone","clip":true},"encoding":{"x":{"field":"D","type":"quantitative","scale":{"domain":[0,6.2832],"nice":false,"zero":false},"axis":{"values":[0,1,2,3,4,5,6],"labelOverlap":false,"gridDash":{"condition":{"test":"datum.value % 2 === 0","value":[12,161]},"value":[6,173]},"labels":false,"title":null}},"y":{"field":"P","type":"quantitative","scale":{"domain":[0.1,0.25],"nice":false,"zero":false},"axis":{"values":[0.1,0.11,0.12,0.13,0.14,0.15,0.16,0.17,0.18,0.19,0.2,0.21,0.22,0.23,0.24,0.25],"labelOverlap":false,"gridDash":{"condition":{"test":"round(datum.value*100) % 5 === 0","value":[12,161]},"value":[6,173]},"labels":false,"title":null}}}},
 {"data":{"name":"model"},"transform":[{"filter":"datum.p=='14'"}],"mark":{"type":"line","color":"black","strokeWidth":1.4,"interpolate":"monotone","clip":true},"encoding":{"x":{"field":"D","type":"quantitative","scale":{"domain":[0,6.2832],"nice":false,"zero":false},"axis":{"values":[0,1,2,3,4,5,6],"labelOverlap":false,"gridDash":{"condition":{"test":"datum.value % 2 === 0","value":[12,161]},"value":[6,173]},"labels":false,"title":null}},"y":{"field":"P","type":"quantitative","scale":{"domain":[0.1,0.25],"nice":false,"zero":false},"axis":{"values":[0.1,0.11,0.12,0.13,0.14,0.15,0.16,0.17,0.18,0.19,0.2,0.21,0.22,0.23,0.24,0.25],"labelOverlap":false,"gridDash":{"condition":{"test":"round(datum.value*100) % 5 === 0","value":[12,161]},"value":[6,173]},"labels":false,"title":null}}}},
 {"data":{"name":"ann"},"transform":[{"filter":"datum.key=='14h'"}],"mark":{"type":"text"},"encoding":{"text":{"field":"t"},"x":{"datum":0.66,"type":"quantitative","scale":{"domain":[0,6.2832],"nice":false,"zero":false},"axis":{"values":[0,1,2,3,4,5,6],"labelOverlap":false,"gridDash":{"condition":{"test":"datum.value % 2 === 0","value":[12,161]},"value":[6,173]},"labels":false,"title":null}},"y":{"datum":0.2224,"type":"quantitative","scale":{"domain":[0.1,0.25],"nice":false,"zero":false},"axis":{"values":[0.1,0.11,0.12,0.13,0.14,0.15,0.16,0.17,0.18,0.19,0.2,0.21,0.22,0.23,0.24,0.25],"labelOverlap":false,"gridDash":{"condition":{"test":"round(datum.value*100) % 5 === 0","value":[12,161]},"value":[6,173]},"labels":false,"title":null}}}}
 ]},
{"width":185,"height":185,"layer":[
 {"data":{"name":"model"},"transform":[{"filter":"datum.p=='21'"}],"mark":{"type":"line","color":"#999999","strokeWidth":2.6,"strokeDash":[1.6,1.4],"interpolate":"monotone","clip":true},"encoding":{"x":{"field":"D","type":"quantitative","scale":{"domain":[0,6.2832],"nice":false,"zero":false},"axis":{"values":[0,1,2,3,4,5,6],"labelOverlap":false,"gridDash":{"condition":{"test":"datum.value % 2 === 0","value":[12,161]},"value":[6,173]},"labels":false,"title":null}},"y":{"field":"P","type":"quantitative","scale":{"domain":[0.1,0.25],"nice":false,"zero":false},"axis":{"values":[0.1,0.11,0.12,0.13,0.14,0.15,0.16,0.17,0.18,0.19,0.2,0.21,0.22,0.23,0.24,0.25],"labelOverlap":false,"gridDash":{"condition":{"test":"round(datum.value*100) % 5 === 0","value":[12,161]},"value":[6,173]},"labelExpr":"round(datum.value*100) == 15 ? '0.15' : (round(datum.value*100) == 20 ? '\u00a0\u00a00.2' : '')","title":"P"}}}},
 {"data":{"name":"model"},"transform":[{"filter":"datum.p=='21'"}],"mark":{"type":"line","color":"black","strokeWidth":1.4,"interpolate":"monotone","clip":true},"encoding":{"x":{"field":"D","type":"quantitative","scale":{"domain":[0,6.2832],"nice":false,"zero":false},"axis":{"values":[0,1,2,3,4,5,6],"labelOverlap":false,"gridDash":{"condition":{"test":"datum.value % 2 === 0","value":[12,161]},"value":[6,173]},"labels":false,"title":null}},"y":{"field":"P","type":"quantitative","scale":{"domain":[0.1,0.25],"nice":false,"zero":false},"axis":{"values":[0.1,0.11,0.12,0.13,0.14,0.15,0.16,0.17,0.18,0.19,0.2,0.21,0.22,0.23,0.24,0.25],"labelOverlap":false,"gridDash":{"condition":{"test":"round(datum.value*100) % 5 === 0","value":[12,161]},"value":[6,173]},"labelExpr":"round(datum.value*100) == 15 ? '0.15' : (round(datum.value*100) == 20 ? '\u00a0\u00a00.2' : '')","title":"P"}}}},
 {"data":{"name":"ann"},"transform":[{"filter":"datum.key=='21k'"}],"mark":{"type":"text"},"encoding":{"text":{"field":"t"},"x":{"datum":0.66,"type":"quantitative","scale":{"domain":[0,6.2832],"nice":false,"zero":false},"axis":{"values":[0,1,2,3,4,5,6],"labelOverlap":false,"gridDash":{"condition":{"test":"datum.value % 2 === 0","value":[12,161]},"value":[6,173]},"labels":false,"title":null}},"y":{"datum":0.2054,"type":"quantitative","scale":{"domain":[0.1,0.25],"nice":false,"zero":false},"axis":{"values":[0.1,0.11,0.12,0.13,0.14,0.15,0.16,0.17,0.18,0.19,0.2,0.21,0.22,0.23,0.24,0.25],"labelOverlap":false,"gridDash":{"condition":{"test":"round(datum.value*100) % 5 === 0","value":[12,161]},"value":[6,173]},"labelExpr":"round(datum.value*100) == 15 ? '0.15' : (round(datum.value*100) == 20 ? '\u00a0\u00a00.2' : '')","title":"P"}}}},
 {"data":{"name":"ann"},"transform":[{"filter":"datum.key=='21n'"}],"mark":{"type":"text","fontSize":16},"encoding":{"text":{"field":"t"},"x":{"datum":1.135,"type":"quantitative","scale":{"domain":[0,6.2832],"nice":false,"zero":false},"axis":{"values":[0,1,2,3,4,5,6],"labelOverlap":false,"gridDash":{"condition":{"test":"datum.value % 2 === 0","value":[12,161]},"value":[6,173]},"labels":false,"title":null}},"y":{"datum":0.2003,"type":"quantitative","scale":{"domain":[0.1,0.25],"nice":false,"zero":false},"axis":{"values":[0.1,0.11,0.12,0.13,0.14,0.15,0.16,0.17,0.18,0.19,0.2,0.21,0.22,0.23,0.24,0.25],"labelOverlap":false,"gridDash":{"condition":{"test":"round(datum.value*100) % 5 === 0","value":[12,161]},"value":[6,173]},"labelExpr":"round(datum.value*100) == 15 ? '0.15' : (round(datum.value*100) == 20 ? '\u00a0\u00a00.2' : '')","title":"P"}}}},
 {"data":{"name":"ann"},"transform":[{"filter":"datum.key=='21e'"}],"mark":{"type":"text","align":"center"},"encoding":{"text":{"field":"t"},"x":{"datum":2.35,"type":"quantitative","scale":{"domain":[0,6.2832],"nice":false,"zero":false},"axis":{"values":[0,1,2,3,4,5,6],"labelOverlap":false,"gridDash":{"condition":{"test":"datum.value % 2 === 0","value":[12,161]},"value":[6,173]},"labels":false,"title":null}},"y":{"datum":0.2054,"type":"quantitative","scale":{"domain":[0.1,0.25],"nice":false,"zero":false},"axis":{"values":[0.1,0.11,0.12,0.13,0.14,0.15,0.16,0.17,0.18,0.19,0.2,0.21,0.22,0.23,0.24,0.25],"labelOverlap":false,"gridDash":{"condition":{"test":"round(datum.value*100) % 5 === 0","value":[12,161]},"value":[6,173]},"labelExpr":"round(datum.value*100) == 15 ? '0.15' : (round(datum.value*100) == 20 ? '\u00a0\u00a00.2' : '')","title":"P"}}}},
 {"data":{"name":"ann"},"transform":[{"filter":"datum.key=='21v'"}],"mark":{"type":"text","align":"right"},"encoding":{"text":{"field":"t"},"x":{"datum":4.416,"type":"quantitative","scale":{"domain":[0,6.2832],"nice":false,"zero":false},"axis":{"values":[0,1,2,3,4,5,6],"labelOverlap":false,"gridDash":{"condition":{"test":"datum.value % 2 === 0","value":[12,161]},"value":[6,173]},"labels":false,"title":null}},"y":{"datum":0.2054,"type":"quantitative","scale":{"domain":[0.1,0.25],"nice":false,"zero":false},"axis":{"values":[0.1,0.11,0.12,0.13,0.14,0.15,0.16,0.17,0.18,0.19,0.2,0.21,0.22,0.23,0.24,0.25],"labelOverlap":false,"gridDash":{"condition":{"test":"round(datum.value*100) % 5 === 0","value":[12,161]},"value":[6,173]},"labelExpr":"round(datum.value*100) == 15 ? '0.15' : (round(datum.value*100) == 20 ? '\u00a0\u00a00.2' : '')","title":"P"}}}},
 {"data":{"name":"ann"},"transform":[{"filter":"datum.key=='21f'"}],"mark":{"type":"text","fontSize":16},"encoding":{"text":{"field":"t"},"x":{"datum":4.42,"type":"quantitative","scale":{"domain":[0,6.2832],"nice":false,"zero":false},"axis":{"values":[0,1,2,3,4,5,6],"labelOverlap":false,"gridDash":{"condition":{"test":"datum.value % 2 === 0","value":[12,161]},"value":[6,173]},"labels":false,"title":null}},"y":{"datum":0.2003,"type":"quantitative","scale":{"domain":[0.1,0.25],"nice":false,"zero":false},"axis":{"values":[0.1,0.11,0.12,0.13,0.14,0.15,0.16,0.17,0.18,0.19,0.2,0.21,0.22,0.23,0.24,0.25],"labelOverlap":false,"gridDash":{"condition":{"test":"round(datum.value*100) % 5 === 0","value":[12,161]},"value":[6,173]},"labelExpr":"round(datum.value*100) == 15 ? '0.15' : (round(datum.value*100) == 20 ? '\u00a0\u00a00.2' : '')","title":"P"}}}}
 ]},
{"width":185,"height":185,"layer":[
 {"data":{"name":"model"},"transform":[{"filter":"datum.p=='22'"}],"mark":{"type":"line","color":"#999999","strokeWidth":2.6,"strokeDash":[1.6,1.4],"interpolate":"monotone","clip":true},"encoding":{"x":{"field":"D","type":"quantitative","scale":{"domain":[0,6.2832],"nice":false,"zero":false},"axis":{"values":[0,1,2,3,4,5,6],"labelOverlap":false,"gridDash":{"condition":{"test":"datum.value % 2 === 0","value":[12,161]},"value":[6,173]},"labels":false,"title":null}},"y":{"field":"P","type":"quantitative","scale":{"domain":[0.1,0.25],"nice":false,"zero":false},"axis":{"values":[0.1,0.11,0.12,0.13,0.14,0.15,0.16,0.17,0.18,0.19,0.2,0.21,0.22,0.23,0.24,0.25],"labelOverlap":false,"gridDash":{"condition":{"test":"round(datum.value*100) % 5 === 0","value":[12,161]},"value":[6,173]},"labels":false,"title":null}}}},
 {"data":{"name":"model"},"transform":[{"filter":"datum.p=='22'"}],"mark":{"type":"line","color":"black","strokeWidth":1.4,"interpolate":"monotone","clip":true},"encoding":{"x":{"field":"D","type":"quantitative","scale":{"domain":[0,6.2832],"nice":false,"zero":false},"axis":{"values":[0,1,2,3,4,5,6],"labelOverlap":false,"gridDash":{"condition":{"test":"datum.value % 2 === 0","value":[12,161]},"value":[6,173]},"labels":false,"title":null}},"y":{"field":"P","type":"quantitative","scale":{"domain":[0.1,0.25],"nice":false,"zero":false},"axis":{"values":[0.1,0.11,0.12,0.13,0.14,0.15,0.16,0.17,0.18,0.19,0.2,0.21,0.22,0.23,0.24,0.25],"labelOverlap":false,"gridDash":{"condition":{"test":"round(datum.value*100) % 5 === 0","value":[12,161]},"value":[6,173]},"labels":false,"title":null}}}}
 ]},
{"width":185,"height":185,"layer":[
 {"data":{"name":"model"},"transform":[{"filter":"datum.p=='23'"}],"mark":{"type":"line","color":"#999999","strokeWidth":2.6,"strokeDash":[1.6,1.4],"interpolate":"monotone","clip":true},"encoding":{"x":{"field":"D","type":"quantitative","scale":{"domain":[0,6.2832],"nice":false,"zero":false},"axis":{"values":[0,1,2,3,4,5,6],"labelOverlap":false,"gridDash":{"condition":{"test":"datum.value % 2 === 0","value":[12,161]},"value":[6,173]},"labels":false,"title":null}},"y":{"field":"P","type":"quantitative","scale":{"domain":[0.1,0.25],"nice":false,"zero":false},"axis":{"values":[0.1,0.11,0.12,0.13,0.14,0.15,0.16,0.17,0.18,0.19,0.2,0.21,0.22,0.23,0.24,0.25],"labelOverlap":false,"gridDash":{"condition":{"test":"round(datum.value*100) % 5 === 0","value":[12,161]},"value":[6,173]},"labels":false,"title":null}}}},
 {"data":{"name":"model"},"transform":[{"filter":"datum.p=='23'"}],"mark":{"type":"line","color":"black","strokeWidth":1.4,"interpolate":"monotone","clip":true},"encoding":{"x":{"field":"D","type":"quantitative","scale":{"domain":[0,6.2832],"nice":false,"zero":false},"axis":{"values":[0,1,2,3,4,5,6],"labelOverlap":false,"gridDash":{"condition":{"test":"datum.value % 2 === 0","value":[12,161]},"value":[6,173]},"labels":false,"title":null}},"y":{"field":"P","type":"quantitative","scale":{"domain":[0.1,0.25],"nice":false,"zero":false},"axis":{"values":[0.1,0.11,0.12,0.13,0.14,0.15,0.16,0.17,0.18,0.19,0.2,0.21,0.22,0.23,0.24,0.25],"labelOverlap":false,"gridDash":{"condition":{"test":"round(datum.value*100) % 5 === 0","value":[12,161]},"value":[6,173]},"labels":false,"title":null}}}}
 ]},
{"width":185,"height":185,"layer":[
 {"data":{"name":"meas"},"transform":[{"filter":"datum.p=='24'"}],"mark":{"type":"line","color":"#999999","strokeWidth":2.6,"strokeDash":[1.6,1.4],"interpolate":"monotone","clip":true},"encoding":{"x":{"field":"D","type":"quantitative","scale":{"domain":[0,6.2832],"nice":false,"zero":false},"axis":{"values":[0,1,2,3,4,5,6],"labelOverlap":false,"gridDash":{"condition":{"test":"datum.value % 2 === 0","value":[12,161]},"value":[6,173]},"labels":false,"title":null}},"y":{"field":"P","type":"quantitative","scale":{"domain":[0.1,0.25],"nice":false,"zero":false},"axis":{"values":[0.1,0.11,0.12,0.13,0.14,0.15,0.16,0.17,0.18,0.19,0.2,0.21,0.22,0.23,0.24,0.25],"labelOverlap":false,"gridDash":{"condition":{"test":"round(datum.value*100) % 5 === 0","value":[12,161]},"value":[6,173]},"labels":false,"title":null}}}},
 {"data":{"name":"model"},"transform":[{"filter":"datum.p=='24'"}],"mark":{"type":"line","color":"black","strokeWidth":1.4,"interpolate":"monotone","clip":true},"encoding":{"x":{"field":"D","type":"quantitative","scale":{"domain":[0,6.2832],"nice":false,"zero":false},"axis":{"values":[0,1,2,3,4,5,6],"labelOverlap":false,"gridDash":{"condition":{"test":"datum.value % 2 === 0","value":[12,161]},"value":[6,173]},"labels":false,"title":null}},"y":{"field":"P","type":"quantitative","scale":{"domain":[0.1,0.25],"nice":false,"zero":false},"axis":{"values":[0.1,0.11,0.12,0.13,0.14,0.15,0.16,0.17,0.18,0.19,0.2,0.21,0.22,0.23,0.24,0.25],"labelOverlap":false,"gridDash":{"condition":{"test":"round(datum.value*100) % 5 === 0","value":[12,161]},"value":[6,173]},"labels":false,"title":null}}}}
 ]},
{"width":185,"height":185,"layer":[
 {"data":{"name":"model"},"transform":[{"filter":"datum.p=='31'"}],"mark":{"type":"line","color":"#999999","strokeWidth":2.6,"strokeDash":[1.6,1.4],"interpolate":"monotone","clip":true},"encoding":{"x":{"field":"D","type":"quantitative","scale":{"domain":[0,6.2832],"nice":false,"zero":false},"axis":{"values":[0,1,2,3,4,5,6],"labelOverlap":false,"gridDash":{"condition":{"test":"datum.value % 2 === 0","value":[12,161]},"value":[6,173]},"labels":false,"title":null}},"y":{"field":"P","type":"quantitative","scale":{"domain":[0.1,0.25],"nice":false,"zero":false},"axis":{"values":[0.1,0.11,0.12,0.13,0.14,0.15,0.16,0.17,0.18,0.19,0.2,0.21,0.22,0.23,0.24,0.25],"labelOverlap":false,"gridDash":{"condition":{"test":"round(datum.value*100) % 5 === 0","value":[12,161]},"value":[6,173]},"labelExpr":"round(datum.value*100) == 15 ? '0.15' : (round(datum.value*100) == 20 ? '\u00a0\u00a00.2' : '')","title":"P"}}}},
 {"data":{"name":"model"},"transform":[{"filter":"datum.p=='31'"}],"mark":{"type":"line","color":"black","strokeWidth":1.4,"interpolate":"monotone","clip":true},"encoding":{"x":{"field":"D","type":"quantitative","scale":{"domain":[0,6.2832],"nice":false,"zero":false},"axis":{"values":[0,1,2,3,4,5,6],"labelOverlap":false,"gridDash":{"condition":{"test":"datum.value % 2 === 0","value":[12,161]},"value":[6,173]},"labels":false,"title":null}},"y":{"field":"P","type":"quantitative","scale":{"domain":[0.1,0.25],"nice":false,"zero":false},"axis":{"values":[0.1,0.11,0.12,0.13,0.14,0.15,0.16,0.17,0.18,0.19,0.2,0.21,0.22,0.23,0.24,0.25],"labelOverlap":false,"gridDash":{"condition":{"test":"round(datum.value*100) % 5 === 0","value":[12,161]},"value":[6,173]},"labelExpr":"round(datum.value*100) == 15 ? '0.15' : (round(datum.value*100) == 20 ? '\u00a0\u00a00.2' : '')","title":"P"}}}},
 {"data":{"name":"ann"},"transform":[{"filter":"datum.key=='31k'"}],"mark":{"type":"text"},"encoding":{"text":{"field":"t"},"x":{"datum":0.66,"type":"quantitative","scale":{"domain":[0,6.2832],"nice":false,"zero":false},"axis":{"values":[0,1,2,3,4,5,6],"labelOverlap":false,"gridDash":{"condition":{"test":"datum.value % 2 === 0","value":[12,161]},"value":[6,173]},"labels":false,"title":null}},"y":{"datum":0.2054,"type":"quantitative","scale":{"domain":[0.1,0.25],"nice":false,"zero":false},"axis":{"values":[0.1,0.11,0.12,0.13,0.14,0.15,0.16,0.17,0.18,0.19,0.2,0.21,0.22,0.23,0.24,0.25],"labelOverlap":false,"gridDash":{"condition":{"test":"round(datum.value*100) % 5 === 0","value":[12,161]},"value":[6,173]},"labelExpr":"round(datum.value*100) == 15 ? '0.15' : (round(datum.value*100) == 20 ? '\u00a0\u00a00.2' : '')","title":"P"}}}},
 {"data":{"name":"ann"},"transform":[{"filter":"datum.key=='31n'"}],"mark":{"type":"text","fontSize":16},"encoding":{"text":{"field":"t"},"x":{"datum":1.135,"type":"quantitative","scale":{"domain":[0,6.2832],"nice":false,"zero":false},"axis":{"values":[0,1,2,3,4,5,6],"labelOverlap":false,"gridDash":{"condition":{"test":"datum.value % 2 === 0","value":[12,161]},"value":[6,173]},"labels":false,"title":null}},"y":{"datum":0.2003,"type":"quantitative","scale":{"domain":[0.1,0.25],"nice":false,"zero":false},"axis":{"values":[0.1,0.11,0.12,0.13,0.14,0.15,0.16,0.17,0.18,0.19,0.2,0.21,0.22,0.23,0.24,0.25],"labelOverlap":false,"gridDash":{"condition":{"test":"round(datum.value*100) % 5 === 0","value":[12,161]},"value":[6,173]},"labelExpr":"round(datum.value*100) == 15 ? '0.15' : (round(datum.value*100) == 20 ? '\u00a0\u00a00.2' : '')","title":"P"}}}},
 {"data":{"name":"ann"},"transform":[{"filter":"datum.key=='31e'"}],"mark":{"type":"text","align":"center"},"encoding":{"text":{"field":"t"},"x":{"datum":2.35,"type":"quantitative","scale":{"domain":[0,6.2832],"nice":false,"zero":false},"axis":{"values":[0,1,2,3,4,5,6],"labelOverlap":false,"gridDash":{"condition":{"test":"datum.value % 2 === 0","value":[12,161]},"value":[6,173]},"labels":false,"title":null}},"y":{"datum":0.2054,"type":"quantitative","scale":{"domain":[0.1,0.25],"nice":false,"zero":false},"axis":{"values":[0.1,0.11,0.12,0.13,0.14,0.15,0.16,0.17,0.18,0.19,0.2,0.21,0.22,0.23,0.24,0.25],"labelOverlap":false,"gridDash":{"condition":{"test":"round(datum.value*100) % 5 === 0","value":[12,161]},"value":[6,173]},"labelExpr":"round(datum.value*100) == 15 ? '0.15' : (round(datum.value*100) == 20 ? '\u00a0\u00a00.2' : '')","title":"P"}}}},
 {"data":{"name":"ann"},"transform":[{"filter":"datum.key=='31v'"}],"mark":{"type":"text","align":"right"},"encoding":{"text":{"field":"t"},"x":{"datum":4.416,"type":"quantitative","scale":{"domain":[0,6.2832],"nice":false,"zero":false},"axis":{"values":[0,1,2,3,4,5,6],"labelOverlap":false,"gridDash":{"condition":{"test":"datum.value % 2 === 0","value":[12,161]},"value":[6,173]},"labels":false,"title":null}},"y":{"datum":0.2054,"type":"quantitative","scale":{"domain":[0.1,0.25],"nice":false,"zero":false},"axis":{"values":[0.1,0.11,0.12,0.13,0.14,0.15,0.16,0.17,0.18,0.19,0.2,0.21,0.22,0.23,0.24,0.25],"labelOverlap":false,"gridDash":{"condition":{"test":"round(datum.value*100) % 5 === 0","value":[12,161]},"value":[6,173]},"labelExpr":"round(datum.value*100) == 15 ? '0.15' : (round(datum.value*100) == 20 ? '\u00a0\u00a00.2' : '')","title":"P"}}}},
 {"data":{"name":"ann"},"transform":[{"filter":"datum.key=='31f'"}],"mark":{"type":"text","fontSize":16},"encoding":{"text":{"field":"t"},"x":{"datum":4.42,"type":"quantitative","scale":{"domain":[0,6.2832],"nice":false,"zero":false},"axis":{"values":[0,1,2,3,4,5,6],"labelOverlap":false,"gridDash":{"condition":{"test":"datum.value % 2 === 0","value":[12,161]},"value":[6,173]},"labels":false,"title":null}},"y":{"datum":0.2003,"type":"quantitative","scale":{"domain":[0.1,0.25],"nice":false,"zero":false},"axis":{"values":[0.1,0.11,0.12,0.13,0.14,0.15,0.16,0.17,0.18,0.19,0.2,0.21,0.22,0.23,0.24,0.25],"labelOverlap":false,"gridDash":{"condition":{"test":"round(datum.value*100) % 5 === 0","value":[12,161]},"value":[6,173]},"labelExpr":"round(datum.value*100) == 15 ? '0.15' : (round(datum.value*100) == 20 ? '\u00a0\u00a00.2' : '')","title":"P"}}}}
 ]},
{"width":185,"height":185,"layer":[
 {"data":{"name":"model"},"transform":[{"filter":"datum.p=='32'"}],"mark":{"type":"line","color":"#999999","strokeWidth":2.6,"strokeDash":[1.6,1.4],"interpolate":"monotone","clip":true},"encoding":{"x":{"field":"D","type":"quantitative","scale":{"domain":[0,6.2832],"nice":false,"zero":false},"axis":{"values":[0,1,2,3,4,5,6],"labelOverlap":false,"gridDash":{"condition":{"test":"datum.value % 2 === 0","value":[12,161]},"value":[6,173]},"labels":false,"title":null}},"y":{"field":"P","type":"quantitative","scale":{"domain":[0.1,0.25],"nice":false,"zero":false},"axis":{"values":[0.1,0.11,0.12,0.13,0.14,0.15,0.16,0.17,0.18,0.19,0.2,0.21,0.22,0.23,0.24,0.25],"labelOverlap":false,"gridDash":{"condition":{"test":"round(datum.value*100) % 5 === 0","value":[12,161]},"value":[6,173]},"labels":false,"title":null}}}},
 {"data":{"name":"model"},"transform":[{"filter":"datum.p=='32'"}],"mark":{"type":"line","color":"black","strokeWidth":1.4,"interpolate":"monotone","clip":true},"encoding":{"x":{"field":"D","type":"quantitative","scale":{"domain":[0,6.2832],"nice":false,"zero":false},"axis":{"values":[0,1,2,3,4,5,6],"labelOverlap":false,"gridDash":{"condition":{"test":"datum.value % 2 === 0","value":[12,161]},"value":[6,173]},"labels":false,"title":null}},"y":{"field":"P","type":"quantitative","scale":{"domain":[0.1,0.25],"nice":false,"zero":false},"axis":{"values":[0.1,0.11,0.12,0.13,0.14,0.15,0.16,0.17,0.18,0.19,0.2,0.21,0.22,0.23,0.24,0.25],"labelOverlap":false,"gridDash":{"condition":{"test":"round(datum.value*100) % 5 === 0","value":[12,161]},"value":[6,173]},"labels":false,"title":null}}}}
 ]},
{"width":185,"height":185,"layer":[
 {"data":{"name":"model"},"transform":[{"filter":"datum.p=='33'"}],"mark":{"type":"line","color":"#999999","strokeWidth":2.6,"strokeDash":[1.6,1.4],"interpolate":"monotone","clip":true},"encoding":{"x":{"field":"D","type":"quantitative","scale":{"domain":[0,6.2832],"nice":false,"zero":false},"axis":{"values":[0,1,2,3,4,5,6],"labelOverlap":false,"gridDash":{"condition":{"test":"datum.value % 2 === 0","value":[12,161]},"value":[6,173]},"labels":false,"title":null}},"y":{"field":"P","type":"quantitative","scale":{"domain":[0.1,0.25],"nice":false,"zero":false},"axis":{"values":[0.1,0.11,0.12,0.13,0.14,0.15,0.16,0.17,0.18,0.19,0.2,0.21,0.22,0.23,0.24,0.25],"labelOverlap":false,"gridDash":{"condition":{"test":"round(datum.value*100) % 5 === 0","value":[12,161]},"value":[6,173]},"labels":false,"title":null}}}},
 {"data":{"name":"model"},"transform":[{"filter":"datum.p=='33'"}],"mark":{"type":"line","color":"black","strokeWidth":1.4,"interpolate":"monotone","clip":true},"encoding":{"x":{"field":"D","type":"quantitative","scale":{"domain":[0,6.2832],"nice":false,"zero":false},"axis":{"values":[0,1,2,3,4,5,6],"labelOverlap":false,"gridDash":{"condition":{"test":"datum.value % 2 === 0","value":[12,161]},"value":[6,173]},"labels":false,"title":null}},"y":{"field":"P","type":"quantitative","scale":{"domain":[0.1,0.25],"nice":false,"zero":false},"axis":{"values":[0.1,0.11,0.12,0.13,0.14,0.15,0.16,0.17,0.18,0.19,0.2,0.21,0.22,0.23,0.24,0.25],"labelOverlap":false,"gridDash":{"condition":{"test":"round(datum.value*100) % 5 === 0","value":[12,161]},"value":[6,173]},"labels":false,"title":null}}}}
 ]},
{"width":185,"height":185,"layer":[
 {"data":{"name":"meas"},"transform":[{"filter":"datum.p=='34'"}],"mark":{"type":"line","color":"#999999","strokeWidth":2.6,"strokeDash":[1.6,1.4],"interpolate":"monotone","clip":true},"encoding":{"x":{"field":"D","type":"quantitative","scale":{"domain":[0,6.2832],"nice":false,"zero":false},"axis":{"values":[0,1,2,3,4,5,6],"labelOverlap":false,"gridDash":{"condition":{"test":"datum.value % 2 === 0","value":[12,161]},"value":[6,173]},"labels":false,"title":null}},"y":{"field":"P","type":"quantitative","scale":{"domain":[0.1,0.25],"nice":false,"zero":false},"axis":{"values":[0.1,0.11,0.12,0.13,0.14,0.15,0.16,0.17,0.18,0.19,0.2,0.21,0.22,0.23,0.24,0.25],"labelOverlap":false,"gridDash":{"condition":{"test":"round(datum.value*100) % 5 === 0","value":[12,161]},"value":[6,173]},"labels":false,"title":null}}}},
 {"data":{"name":"model"},"transform":[{"filter":"datum.p=='34'"}],"mark":{"type":"line","color":"black","strokeWidth":1.4,"interpolate":"monotone","clip":true},"encoding":{"x":{"field":"D","type":"quantitative","scale":{"domain":[0,6.2832],"nice":false,"zero":false},"axis":{"values":[0,1,2,3,4,5,6],"labelOverlap":false,"gridDash":{"condition":{"test":"datum.value % 2 === 0","value":[12,161]},"value":[6,173]},"labels":false,"title":null}},"y":{"field":"P","type":"quantitative","scale":{"domain":[0.1,0.25],"nice":false,"zero":false},"axis":{"values":[0.1,0.11,0.12,0.13,0.14,0.15,0.16,0.17,0.18,0.19,0.2,0.21,0.22,0.23,0.24,0.25],"labelOverlap":false,"gridDash":{"condition":{"test":"round(datum.value*100) % 5 === 0","value":[12,161]},"value":[6,173]},"labels":false,"title":null}}}}
 ]},
{"width":185,"height":185,"layer":[
 {"data":{"name":"model"},"transform":[{"filter":"datum.p=='41'"}],"mark":{"type":"line","color":"#999999","strokeWidth":2.6,"strokeDash":[1.6,1.4],"interpolate":"monotone","clip":true},"encoding":{"x":{"field":"D","type":"quantitative","scale":{"domain":[0,6.2832],"nice":false,"zero":false},"axis":{"values":[0,1,2,3,4,5,6],"labelOverlap":false,"gridDash":{"condition":{"test":"datum.value % 2 === 0","value":[12,161]},"value":[6,173]},"labels":false,"title":null}},"y":{"field":"P","type":"quantitative","scale":{"domain":[0.1,0.25],"nice":false,"zero":false},"axis":{"values":[0.1,0.11,0.12,0.13,0.14,0.15,0.16,0.17,0.18,0.19,0.2,0.21,0.22,0.23,0.24,0.25],"labelOverlap":false,"gridDash":{"condition":{"test":"round(datum.value*100) % 5 === 0","value":[12,161]},"value":[6,173]},"labelExpr":"round(datum.value*100) == 15 ? '0.15' : (round(datum.value*100) == 20 ? '\u00a0\u00a00.2' : '')","title":"P"}}}},
 {"data":{"name":"model"},"transform":[{"filter":"datum.p=='41'"}],"mark":{"type":"line","color":"black","strokeWidth":1.4,"interpolate":"monotone","clip":true},"encoding":{"x":{"field":"D","type":"quantitative","scale":{"domain":[0,6.2832],"nice":false,"zero":false},"axis":{"values":[0,1,2,3,4,5,6],"labelOverlap":false,"gridDash":{"condition":{"test":"datum.value % 2 === 0","value":[12,161]},"value":[6,173]},"labels":false,"title":null}},"y":{"field":"P","type":"quantitative","scale":{"domain":[0.1,0.25],"nice":false,"zero":false},"axis":{"values":[0.1,0.11,0.12,0.13,0.14,0.15,0.16,0.17,0.18,0.19,0.2,0.21,0.22,0.23,0.24,0.25],"labelOverlap":false,"gridDash":{"condition":{"test":"round(datum.value*100) % 5 === 0","value":[12,161]},"value":[6,173]},"labelExpr":"round(datum.value*100) == 15 ? '0.15' : (round(datum.value*100) == 20 ? '\u00a0\u00a00.2' : '')","title":"P"}}}},
 {"data":{"name":"ann"},"transform":[{"filter":"datum.key=='41k'"}],"mark":{"type":"text"},"encoding":{"text":{"field":"t"},"x":{"datum":0.66,"type":"quantitative","scale":{"domain":[0,6.2832],"nice":false,"zero":false},"axis":{"values":[0,1,2,3,4,5,6],"labelOverlap":false,"gridDash":{"condition":{"test":"datum.value % 2 === 0","value":[12,161]},"value":[6,173]},"labels":false,"title":null}},"y":{"datum":0.2054,"type":"quantitative","scale":{"domain":[0.1,0.25],"nice":false,"zero":false},"axis":{"values":[0.1,0.11,0.12,0.13,0.14,0.15,0.16,0.17,0.18,0.19,0.2,0.21,0.22,0.23,0.24,0.25],"labelOverlap":false,"gridDash":{"condition":{"test":"round(datum.value*100) % 5 === 0","value":[12,161]},"value":[6,173]},"labelExpr":"round(datum.value*100) == 15 ? '0.15' : (round(datum.value*100) == 20 ? '\u00a0\u00a00.2' : '')","title":"P"}}}},
 {"data":{"name":"ann"},"transform":[{"filter":"datum.key=='41n'"}],"mark":{"type":"text","fontSize":16},"encoding":{"text":{"field":"t"},"x":{"datum":1.135,"type":"quantitative","scale":{"domain":[0,6.2832],"nice":false,"zero":false},"axis":{"values":[0,1,2,3,4,5,6],"labelOverlap":false,"gridDash":{"condition":{"test":"datum.value % 2 === 0","value":[12,161]},"value":[6,173]},"labels":false,"title":null}},"y":{"datum":0.2003,"type":"quantitative","scale":{"domain":[0.1,0.25],"nice":false,"zero":false},"axis":{"values":[0.1,0.11,0.12,0.13,0.14,0.15,0.16,0.17,0.18,0.19,0.2,0.21,0.22,0.23,0.24,0.25],"labelOverlap":false,"gridDash":{"condition":{"test":"round(datum.value*100) % 5 === 0","value":[12,161]},"value":[6,173]},"labelExpr":"round(datum.value*100) == 15 ? '0.15' : (round(datum.value*100) == 20 ? '\u00a0\u00a00.2' : '')","title":"P"}}}},
 {"data":{"name":"ann"},"transform":[{"filter":"datum.key=='41e'"}],"mark":{"type":"text","align":"center"},"encoding":{"text":{"field":"t"},"x":{"datum":2.35,"type":"quantitative","scale":{"domain":[0,6.2832],"nice":false,"zero":false},"axis":{"values":[0,1,2,3,4,5,6],"labelOverlap":false,"gridDash":{"condition":{"test":"datum.value % 2 === 0","value":[12,161]},"value":[6,173]},"labels":false,"title":null}},"y":{"datum":0.2054,"type":"quantitative","scale":{"domain":[0.1,0.25],"nice":false,"zero":false},"axis":{"values":[0.1,0.11,0.12,0.13,0.14,0.15,0.16,0.17,0.18,0.19,0.2,0.21,0.22,0.23,0.24,0.25],"labelOverlap":false,"gridDash":{"condition":{"test":"round(datum.value*100) % 5 === 0","value":[12,161]},"value":[6,173]},"labelExpr":"round(datum.value*100) == 15 ? '0.15' : (round(datum.value*100) == 20 ? '\u00a0\u00a00.2' : '')","title":"P"}}}},
 {"data":{"name":"ann"},"transform":[{"filter":"datum.key=='41v'"}],"mark":{"type":"text","align":"right"},"encoding":{"text":{"field":"t"},"x":{"datum":4.416,"type":"quantitative","scale":{"domain":[0,6.2832],"nice":false,"zero":false},"axis":{"values":[0,1,2,3,4,5,6],"labelOverlap":false,"gridDash":{"condition":{"test":"datum.value % 2 === 0","value":[12,161]},"value":[6,173]},"labels":false,"title":null}},"y":{"datum":0.2054,"type":"quantitative","scale":{"domain":[0.1,0.25],"nice":false,"zero":false},"axis":{"values":[0.1,0.11,0.12,0.13,0.14,0.15,0.16,0.17,0.18,0.19,0.2,0.21,0.22,0.23,0.24,0.25],"labelOverlap":false,"gridDash":{"condition":{"test":"round(datum.value*100) % 5 === 0","value":[12,161]},"value":[6,173]},"labelExpr":"round(datum.value*100) == 15 ? '0.15' : (round(datum.value*100) == 20 ? '\u00a0\u00a00.2' : '')","title":"P"}}}},
 {"data":{"name":"ann"},"transform":[{"filter":"datum.key=='41f'"}],"mark":{"type":"text","fontSize":16},"encoding":{"text":{"field":"t"},"x":{"datum":4.42,"type":"quantitative","scale":{"domain":[0,6.2832],"nice":false,"zero":false},"axis":{"values":[0,1,2,3,4,5,6],"labelOverlap":false,"gridDash":{"condition":{"test":"datum.value % 2 === 0","value":[12,161]},"value":[6,173]},"labels":false,"title":null}},"y":{"datum":0.2003,"type":"quantitative","scale":{"domain":[0.1,0.25],"nice":false,"zero":false},"axis":{"values":[0.1,0.11,0.12,0.13,0.14,0.15,0.16,0.17,0.18,0.19,0.2,0.21,0.22,0.23,0.24,0.25],"labelOverlap":false,"gridDash":{"condition":{"test":"round(datum.value*100) % 5 === 0","value":[12,161]},"value":[6,173]},"labelExpr":"round(datum.value*100) == 15 ? '0.15' : (round(datum.value*100) == 20 ? '\u00a0\u00a00.2' : '')","title":"P"}}}}
 ]},
{"width":185,"height":185,"layer":[
 {"data":{"name":"model"},"transform":[{"filter":"datum.p=='42'"}],"mark":{"type":"line","color":"#999999","strokeWidth":2.6,"strokeDash":[1.6,1.4],"interpolate":"monotone","clip":true},"encoding":{"x":{"field":"D","type":"quantitative","scale":{"domain":[0,6.2832],"nice":false,"zero":false},"axis":{"values":[0,1,2,3,4,5,6],"labelOverlap":false,"gridDash":{"condition":{"test":"datum.value % 2 === 0","value":[12,161]},"value":[6,173]},"labels":false,"title":null}},"y":{"field":"P","type":"quantitative","scale":{"domain":[0.1,0.25],"nice":false,"zero":false},"axis":{"values":[0.1,0.11,0.12,0.13,0.14,0.15,0.16,0.17,0.18,0.19,0.2,0.21,0.22,0.23,0.24,0.25],"labelOverlap":false,"gridDash":{"condition":{"test":"round(datum.value*100) % 5 === 0","value":[12,161]},"value":[6,173]},"labels":false,"title":null}}}},
 {"data":{"name":"model"},"transform":[{"filter":"datum.p=='42'"}],"mark":{"type":"line","color":"black","strokeWidth":1.4,"interpolate":"monotone","clip":true},"encoding":{"x":{"field":"D","type":"quantitative","scale":{"domain":[0,6.2832],"nice":false,"zero":false},"axis":{"values":[0,1,2,3,4,5,6],"labelOverlap":false,"gridDash":{"condition":{"test":"datum.value % 2 === 0","value":[12,161]},"value":[6,173]},"labels":false,"title":null}},"y":{"field":"P","type":"quantitative","scale":{"domain":[0.1,0.25],"nice":false,"zero":false},"axis":{"values":[0.1,0.11,0.12,0.13,0.14,0.15,0.16,0.17,0.18,0.19,0.2,0.21,0.22,0.23,0.24,0.25],"labelOverlap":false,"gridDash":{"condition":{"test":"round(datum.value*100) % 5 === 0","value":[12,161]},"value":[6,173]},"labels":false,"title":null}}}}
 ]},
{"width":185,"height":185,"layer":[
 {"data":{"name":"model"},"transform":[{"filter":"datum.p=='43'"}],"mark":{"type":"line","color":"#999999","strokeWidth":2.6,"strokeDash":[1.6,1.4],"interpolate":"monotone","clip":true},"encoding":{"x":{"field":"D","type":"quantitative","scale":{"domain":[0,6.2832],"nice":false,"zero":false},"axis":{"values":[0,1,2,3,4,5,6],"labelOverlap":false,"gridDash":{"condition":{"test":"datum.value % 2 === 0","value":[12,161]},"value":[6,173]},"labels":false,"title":null}},"y":{"field":"P","type":"quantitative","scale":{"domain":[0.1,0.25],"nice":false,"zero":false},"axis":{"values":[0.1,0.11,0.12,0.13,0.14,0.15,0.16,0.17,0.18,0.19,0.2,0.21,0.22,0.23,0.24,0.25],"labelOverlap":false,"gridDash":{"condition":{"test":"round(datum.value*100) % 5 === 0","value":[12,161]},"value":[6,173]},"labels":false,"title":null}}}},
 {"data":{"name":"model"},"transform":[{"filter":"datum.p=='43'"}],"mark":{"type":"line","color":"black","strokeWidth":1.4,"interpolate":"monotone","clip":true},"encoding":{"x":{"field":"D","type":"quantitative","scale":{"domain":[0,6.2832],"nice":false,"zero":false},"axis":{"values":[0,1,2,3,4,5,6],"labelOverlap":false,"gridDash":{"condition":{"test":"datum.value % 2 === 0","value":[12,161]},"value":[6,173]},"labels":false,"title":null}},"y":{"field":"P","type":"quantitative","scale":{"domain":[0.1,0.25],"nice":false,"zero":false},"axis":{"values":[0.1,0.11,0.12,0.13,0.14,0.15,0.16,0.17,0.18,0.19,0.2,0.21,0.22,0.23,0.24,0.25],"labelOverlap":false,"gridDash":{"condition":{"test":"round(datum.value*100) % 5 === 0","value":[12,161]},"value":[6,173]},"labels":false,"title":null}}}}
 ]},
{"width":185,"height":185,"layer":[
 {"data":{"name":"meas"},"transform":[{"filter":"datum.p=='44'"}],"mark":{"type":"line","color":"#999999","strokeWidth":2.6,"strokeDash":[1.6,1.4],"interpolate":"monotone","clip":true},"encoding":{"x":{"field":"D","type":"quantitative","scale":{"domain":[0,6.2832],"nice":false,"zero":false},"axis":{"values":[0,1,2,3,4,5,6],"labelOverlap":false,"gridDash":{"condition":{"test":"datum.value % 2 === 0","value":[12,161]},"value":[6,173]},"labels":false,"title":null}},"y":{"field":"P","type":"quantitative","scale":{"domain":[0.1,0.25],"nice":false,"zero":false},"axis":{"values":[0.1,0.11,0.12,0.13,0.14,0.15,0.16,0.17,0.18,0.19,0.2,0.21,0.22,0.23,0.24,0.25],"labelOverlap":false,"gridDash":{"condition":{"test":"round(datum.value*100) % 5 === 0","value":[12,161]},"value":[6,173]},"labels":false,"title":null}}}},
 {"data":{"name":"model"},"transform":[{"filter":"datum.p=='44'"}],"mark":{"type":"line","color":"black","strokeWidth":1.4,"interpolate":"monotone","clip":true},"encoding":{"x":{"field":"D","type":"quantitative","scale":{"domain":[0,6.2832],"nice":false,"zero":false},"axis":{"values":[0,1,2,3,4,5,6],"labelOverlap":false,"gridDash":{"condition":{"test":"datum.value % 2 === 0","value":[12,161]},"value":[6,173]},"labels":false,"title":null}},"y":{"field":"P","type":"quantitative","scale":{"domain":[0.1,0.25],"nice":false,"zero":false},"axis":{"values":[0.1,0.11,0.12,0.13,0.14,0.15,0.16,0.17,0.18,0.19,0.2,0.21,0.22,0.23,0.24,0.25],"labelOverlap":false,"gridDash":{"condition":{"test":"round(datum.value*100) % 5 === 0","value":[12,161]},"value":[6,173]},"labels":false,"title":null}}}}
 ]},
{"width":185,"height":185,"layer":[
 {"data":{"name":"model"},"transform":[{"filter":"datum.p=='51'"}],"mark":{"type":"line","color":"#999999","strokeWidth":2.6,"strokeDash":[1.6,1.4],"interpolate":"monotone","clip":true},"encoding":{"x":{"field":"D","type":"quantitative","scale":{"domain":[0,6.2832],"nice":false,"zero":false},"axis":{"values":[0,1,2,3,4,5,6],"labelOverlap":false,"gridDash":{"condition":{"test":"datum.value % 2 === 0","value":[12,161]},"value":[6,173]},"labelExpr":"datum.value % 2 === 0 ? datum.label : ''","title":"D"}},"y":{"field":"P","type":"quantitative","scale":{"domain":[0.1,0.25],"nice":false,"zero":false},"axis":{"values":[0.1,0.11,0.12,0.13,0.14,0.15,0.16,0.17,0.18,0.19,0.2,0.21,0.22,0.23,0.24,0.25],"labelOverlap":false,"gridDash":{"condition":{"test":"round(datum.value*100) % 5 === 0","value":[12,161]},"value":[6,173]},"labelExpr":"round(datum.value*100) == 10 ? '0.1' : (round(datum.value*100) == 15 ? '0.15' : (round(datum.value*100) == 20 ? '\u00a0\u00a00.2' : ''))","title":"P"}}}},
 {"data":{"name":"model"},"transform":[{"filter":"datum.p=='51'"}],"mark":{"type":"line","color":"black","strokeWidth":1.4,"interpolate":"monotone","clip":true},"encoding":{"x":{"field":"D","type":"quantitative","scale":{"domain":[0,6.2832],"nice":false,"zero":false},"axis":{"values":[0,1,2,3,4,5,6],"labelOverlap":false,"gridDash":{"condition":{"test":"datum.value % 2 === 0","value":[12,161]},"value":[6,173]},"labelExpr":"datum.value % 2 === 0 ? datum.label : ''","title":"D"}},"y":{"field":"P","type":"quantitative","scale":{"domain":[0.1,0.25],"nice":false,"zero":false},"axis":{"values":[0.1,0.11,0.12,0.13,0.14,0.15,0.16,0.17,0.18,0.19,0.2,0.21,0.22,0.23,0.24,0.25],"labelOverlap":false,"gridDash":{"condition":{"test":"round(datum.value*100) % 5 === 0","value":[12,161]},"value":[6,173]},"labelExpr":"round(datum.value*100) == 10 ? '0.1' : (round(datum.value*100) == 15 ? '0.15' : (round(datum.value*100) == 20 ? '\u00a0\u00a00.2' : ''))","title":"P"}}}},
 {"data":{"name":"ann"},"transform":[{"filter":"datum.key=='51k'"}],"mark":{"type":"text"},"encoding":{"text":{"field":"t"},"x":{"datum":0.66,"type":"quantitative","scale":{"domain":[0,6.2832],"nice":false,"zero":false},"axis":{"values":[0,1,2,3,4,5,6],"labelOverlap":false,"gridDash":{"condition":{"test":"datum.value % 2 === 0","value":[12,161]},"value":[6,173]},"labelExpr":"datum.value % 2 === 0 ? datum.label : ''","title":"D"}},"y":{"datum":0.2054,"type":"quantitative","scale":{"domain":[0.1,0.25],"nice":false,"zero":false},"axis":{"values":[0.1,0.11,0.12,0.13,0.14,0.15,0.16,0.17,0.18,0.19,0.2,0.21,0.22,0.23,0.24,0.25],"labelOverlap":false,"gridDash":{"condition":{"test":"round(datum.value*100) % 5 === 0","value":[12,161]},"value":[6,173]},"labelExpr":"round(datum.value*100) == 10 ? '0.1' : (round(datum.value*100) == 15 ? '0.15' : (round(datum.value*100) == 20 ? '\u00a0\u00a00.2' : ''))","title":"P"}}}},
 {"data":{"name":"ann"},"transform":[{"filter":"datum.key=='51n'"}],"mark":{"type":"text","fontSize":16},"encoding":{"text":{"field":"t"},"x":{"datum":1.135,"type":"quantitative","scale":{"domain":[0,6.2832],"nice":false,"zero":false},"axis":{"values":[0,1,2,3,4,5,6],"labelOverlap":false,"gridDash":{"condition":{"test":"datum.value % 2 === 0","value":[12,161]},"value":[6,173]},"labelExpr":"datum.value % 2 === 0 ? datum.label : ''","title":"D"}},"y":{"datum":0.2003,"type":"quantitative","scale":{"domain":[0.1,0.25],"nice":false,"zero":false},"axis":{"values":[0.1,0.11,0.12,0.13,0.14,0.15,0.16,0.17,0.18,0.19,0.2,0.21,0.22,0.23,0.24,0.25],"labelOverlap":false,"gridDash":{"condition":{"test":"round(datum.value*100) % 5 === 0","value":[12,161]},"value":[6,173]},"labelExpr":"round(datum.value*100) == 10 ? '0.1' : (round(datum.value*100) == 15 ? '0.15' : (round(datum.value*100) == 20 ? '\u00a0\u00a00.2' : ''))","title":"P"}}}},
 {"data":{"name":"ann"},"transform":[{"filter":"datum.key=='51e'"}],"mark":{"type":"text","align":"center"},"encoding":{"text":{"field":"t"},"x":{"datum":2.35,"type":"quantitative","scale":{"domain":[0,6.2832],"nice":false,"zero":false},"axis":{"values":[0,1,2,3,4,5,6],"labelOverlap":false,"gridDash":{"condition":{"test":"datum.value % 2 === 0","value":[12,161]},"value":[6,173]},"labelExpr":"datum.value % 2 === 0 ? datum.label : ''","title":"D"}},"y":{"datum":0.2054,"type":"quantitative","scale":{"domain":[0.1,0.25],"nice":false,"zero":false},"axis":{"values":[0.1,0.11,0.12,0.13,0.14,0.15,0.16,0.17,0.18,0.19,0.2,0.21,0.22,0.23,0.24,0.25],"labelOverlap":false,"gridDash":{"condition":{"test":"round(datum.value*100) % 5 === 0","value":[12,161]},"value":[6,173]},"labelExpr":"round(datum.value*100) == 10 ? '0.1' : (round(datum.value*100) == 15 ? '0.15' : (round(datum.value*100) == 20 ? '\u00a0\u00a00.2' : ''))","title":"P"}}}},
 {"data":{"name":"ann"},"transform":[{"filter":"datum.key=='51v'"}],"mark":{"type":"text","align":"right"},"encoding":{"text":{"field":"t"},"x":{"datum":4.416,"type":"quantitative","scale":{"domain":[0,6.2832],"nice":false,"zero":false},"axis":{"values":[0,1,2,3,4,5,6],"labelOverlap":false,"gridDash":{"condition":{"test":"datum.value % 2 === 0","value":[12,161]},"value":[6,173]},"labelExpr":"datum.value % 2 === 0 ? datum.label : ''","title":"D"}},"y":{"datum":0.2054,"type":"quantitative","scale":{"domain":[0.1,0.25],"nice":false,"zero":false},"axis":{"values":[0.1,0.11,0.12,0.13,0.14,0.15,0.16,0.17,0.18,0.19,0.2,0.21,0.22,0.23,0.24,0.25],"labelOverlap":false,"gridDash":{"condition":{"test":"round(datum.value*100) % 5 === 0","value":[12,161]},"value":[6,173]},"labelExpr":"round(datum.value*100) == 10 ? '0.1' : (round(datum.value*100) == 15 ? '0.15' : (round(datum.value*100) == 20 ? '\u00a0\u00a00.2' : ''))","title":"P"}}}},
 {"data":{"name":"ann"},"transform":[{"filter":"datum.key=='51f'"}],"mark":{"type":"text","fontSize":16},"encoding":{"text":{"field":"t"},"x":{"datum":4.42,"type":"quantitative","scale":{"domain":[0,6.2832],"nice":false,"zero":false},"axis":{"values":[0,1,2,3,4,5,6],"labelOverlap":false,"gridDash":{"condition":{"test":"datum.value % 2 === 0","value":[12,161]},"value":[6,173]},"labelExpr":"datum.value % 2 === 0 ? datum.label : ''","title":"D"}},"y":{"datum":0.2003,"type":"quantitative","scale":{"domain":[0.1,0.25],"nice":false,"zero":false},"axis":{"values":[0.1,0.11,0.12,0.13,0.14,0.15,0.16,0.17,0.18,0.19,0.2,0.21,0.22,0.23,0.24,0.25],"labelOverlap":false,"gridDash":{"condition":{"test":"round(datum.value*100) % 5 === 0","value":[12,161]},"value":[6,173]},"labelExpr":"round(datum.value*100) == 10 ? '0.1' : (round(datum.value*100) == 15 ? '0.15' : (round(datum.value*100) == 20 ? '\u00a0\u00a00.2' : ''))","title":"P"}}}}
 ]},
{"width":185,"height":185,"layer":[
 {"data":{"name":"model"},"transform":[{"filter":"datum.p=='52'"}],"mark":{"type":"line","color":"#999999","strokeWidth":2.6,"strokeDash":[1.6,1.4],"interpolate":"monotone","clip":true},"encoding":{"x":{"field":"D","type":"quantitative","scale":{"domain":[0,6.2832],"nice":false,"zero":false},"axis":{"values":[0,1,2,3,4,5,6],"labelOverlap":false,"gridDash":{"condition":{"test":"datum.value % 2 === 0","value":[12,161]},"value":[6,173]},"labelExpr":"(datum.value % 2 === 0 && datum.value > 0) ? datum.label : ''","title":"D"}},"y":{"field":"P","type":"quantitative","scale":{"domain":[0.1,0.25],"nice":false,"zero":false},"axis":{"values":[0.1,0.11,0.12,0.13,0.14,0.15,0.16,0.17,0.18,0.19,0.2,0.21,0.22,0.23,0.24,0.25],"labelOverlap":false,"gridDash":{"condition":{"test":"round(datum.value*100) % 5 === 0","value":[12,161]},"value":[6,173]},"labels":false,"title":null}}}},
 {"data":{"name":"model"},"transform":[{"filter":"datum.p=='52'"}],"mark":{"type":"line","color":"black","strokeWidth":1.4,"interpolate":"monotone","clip":true},"encoding":{"x":{"field":"D","type":"quantitative","scale":{"domain":[0,6.2832],"nice":false,"zero":false},"axis":{"values":[0,1,2,3,4,5,6],"labelOverlap":false,"gridDash":{"condition":{"test":"datum.value % 2 === 0","value":[12,161]},"value":[6,173]},"labelExpr":"(datum.value % 2 === 0 && datum.value > 0) ? datum.label : ''","title":"D"}},"y":{"field":"P","type":"quantitative","scale":{"domain":[0.1,0.25],"nice":false,"zero":false},"axis":{"values":[0.1,0.11,0.12,0.13,0.14,0.15,0.16,0.17,0.18,0.19,0.2,0.21,0.22,0.23,0.24,0.25],"labelOverlap":false,"gridDash":{"condition":{"test":"round(datum.value*100) % 5 === 0","value":[12,161]},"value":[6,173]},"labels":false,"title":null}}}}
 ]},
{"width":185,"height":185,"layer":[
 {"data":{"name":"model"},"transform":[{"filter":"datum.p=='53'"}],"mark":{"type":"line","color":"#999999","strokeWidth":2.6,"strokeDash":[1.6,1.4],"interpolate":"monotone","clip":true},"encoding":{"x":{"field":"D","type":"quantitative","scale":{"domain":[0,6.2832],"nice":false,"zero":false},"axis":{"values":[0,1,2,3,4,5,6],"labelOverlap":false,"gridDash":{"condition":{"test":"datum.value % 2 === 0","value":[12,161]},"value":[6,173]},"labelExpr":"(datum.value % 2 === 0 && datum.value > 0) ? datum.label : ''","title":"D"}},"y":{"field":"P","type":"quantitative","scale":{"domain":[0.1,0.25],"nice":false,"zero":false},"axis":{"values":[0.1,0.11,0.12,0.13,0.14,0.15,0.16,0.17,0.18,0.19,0.2,0.21,0.22,0.23,0.24,0.25],"labelOverlap":false,"gridDash":{"condition":{"test":"round(datum.value*100) % 5 === 0","value":[12,161]},"value":[6,173]},"labels":false,"title":null}}}},
 {"data":{"name":"model"},"transform":[{"filter":"datum.p=='53'"}],"mark":{"type":"line","color":"black","strokeWidth":1.4,"interpolate":"monotone","clip":true},"encoding":{"x":{"field":"D","type":"quantitative","scale":{"domain":[0,6.2832],"nice":false,"zero":false},"axis":{"values":[0,1,2,3,4,5,6],"labelOverlap":false,"gridDash":{"condition":{"test":"datum.value % 2 === 0","value":[12,161]},"value":[6,173]},"labelExpr":"(datum.value % 2 === 0 && datum.value > 0) ? datum.label : ''","title":"D"}},"y":{"field":"P","type":"quantitative","scale":{"domain":[0.1,0.25],"nice":false,"zero":false},"axis":{"values":[0.1,0.11,0.12,0.13,0.14,0.15,0.16,0.17,0.18,0.19,0.2,0.21,0.22,0.23,0.24,0.25],"labelOverlap":false,"gridDash":{"condition":{"test":"round(datum.value*100) % 5 === 0","value":[12,161]},"value":[6,173]},"labels":false,"title":null}}}}
 ]},
{"width":185,"height":185,"layer":[
 {"data":{"name":"meas"},"transform":[{"filter":"datum.p=='54'"}],"mark":{"type":"line","color":"#999999","strokeWidth":2.6,"strokeDash":[1.6,1.4],"interpolate":"monotone","clip":true},"encoding":{"x":{"field":"D","type":"quantitative","scale":{"domain":[0,6.2832],"nice":false,"zero":false},"axis":{"values":[0,1,2,3,4,5,6],"labelOverlap":false,"gridDash":{"condition":{"test":"datum.value % 2 === 0","value":[12,161]},"value":[6,173]},"labelExpr":"(datum.value % 2 === 0 && datum.value > 0) ? datum.label : ''","title":"D"}},"y":{"field":"P","type":"quantitative","scale":{"domain":[0.1,0.25],"nice":false,"zero":false},"axis":{"values":[0.1,0.11,0.12,0.13,0.14,0.15,0.16,0.17,0.18,0.19,0.2,0.21,0.22,0.23,0.24,0.25],"labelOverlap":false,"gridDash":{"condition":{"test":"round(datum.value*100) % 5 === 0","value":[12,161]},"value":[6,173]},"labels":false,"title":null}}}},
 {"data":{"name":"model"},"transform":[{"filter":"datum.p=='54'"}],"mark":{"type":"line","color":"black","strokeWidth":1.4,"interpolate":"monotone","clip":true},"encoding":{"x":{"field":"D","type":"quantitative","scale":{"domain":[0,6.2832],"nice":false,"zero":false},"axis":{"values":[0,1,2,3,4,5,6],"labelOverlap":false,"gridDash":{"condition":{"test":"datum.value % 2 === 0","value":[12,161]},"value":[6,173]},"labelExpr":"(datum.value % 2 === 0 && datum.value > 0) ? datum.label : ''","title":"D"}},"y":{"field":"P","type":"quantitative","scale":{"domain":[0.1,0.25],"nice":false,"zero":false},"axis":{"values":[0.1,0.11,0.12,0.13,0.14,0.15,0.16,0.17,0.18,0.19,0.2,0.21,0.22,0.23,0.24,0.25],"labelOverlap":false,"gridDash":{"condition":{"test":"round(datum.value*100) % 5 === 0","value":[12,161]},"value":[6,173]},"labels":false,"title":null}}}}
 ]}
]
}
